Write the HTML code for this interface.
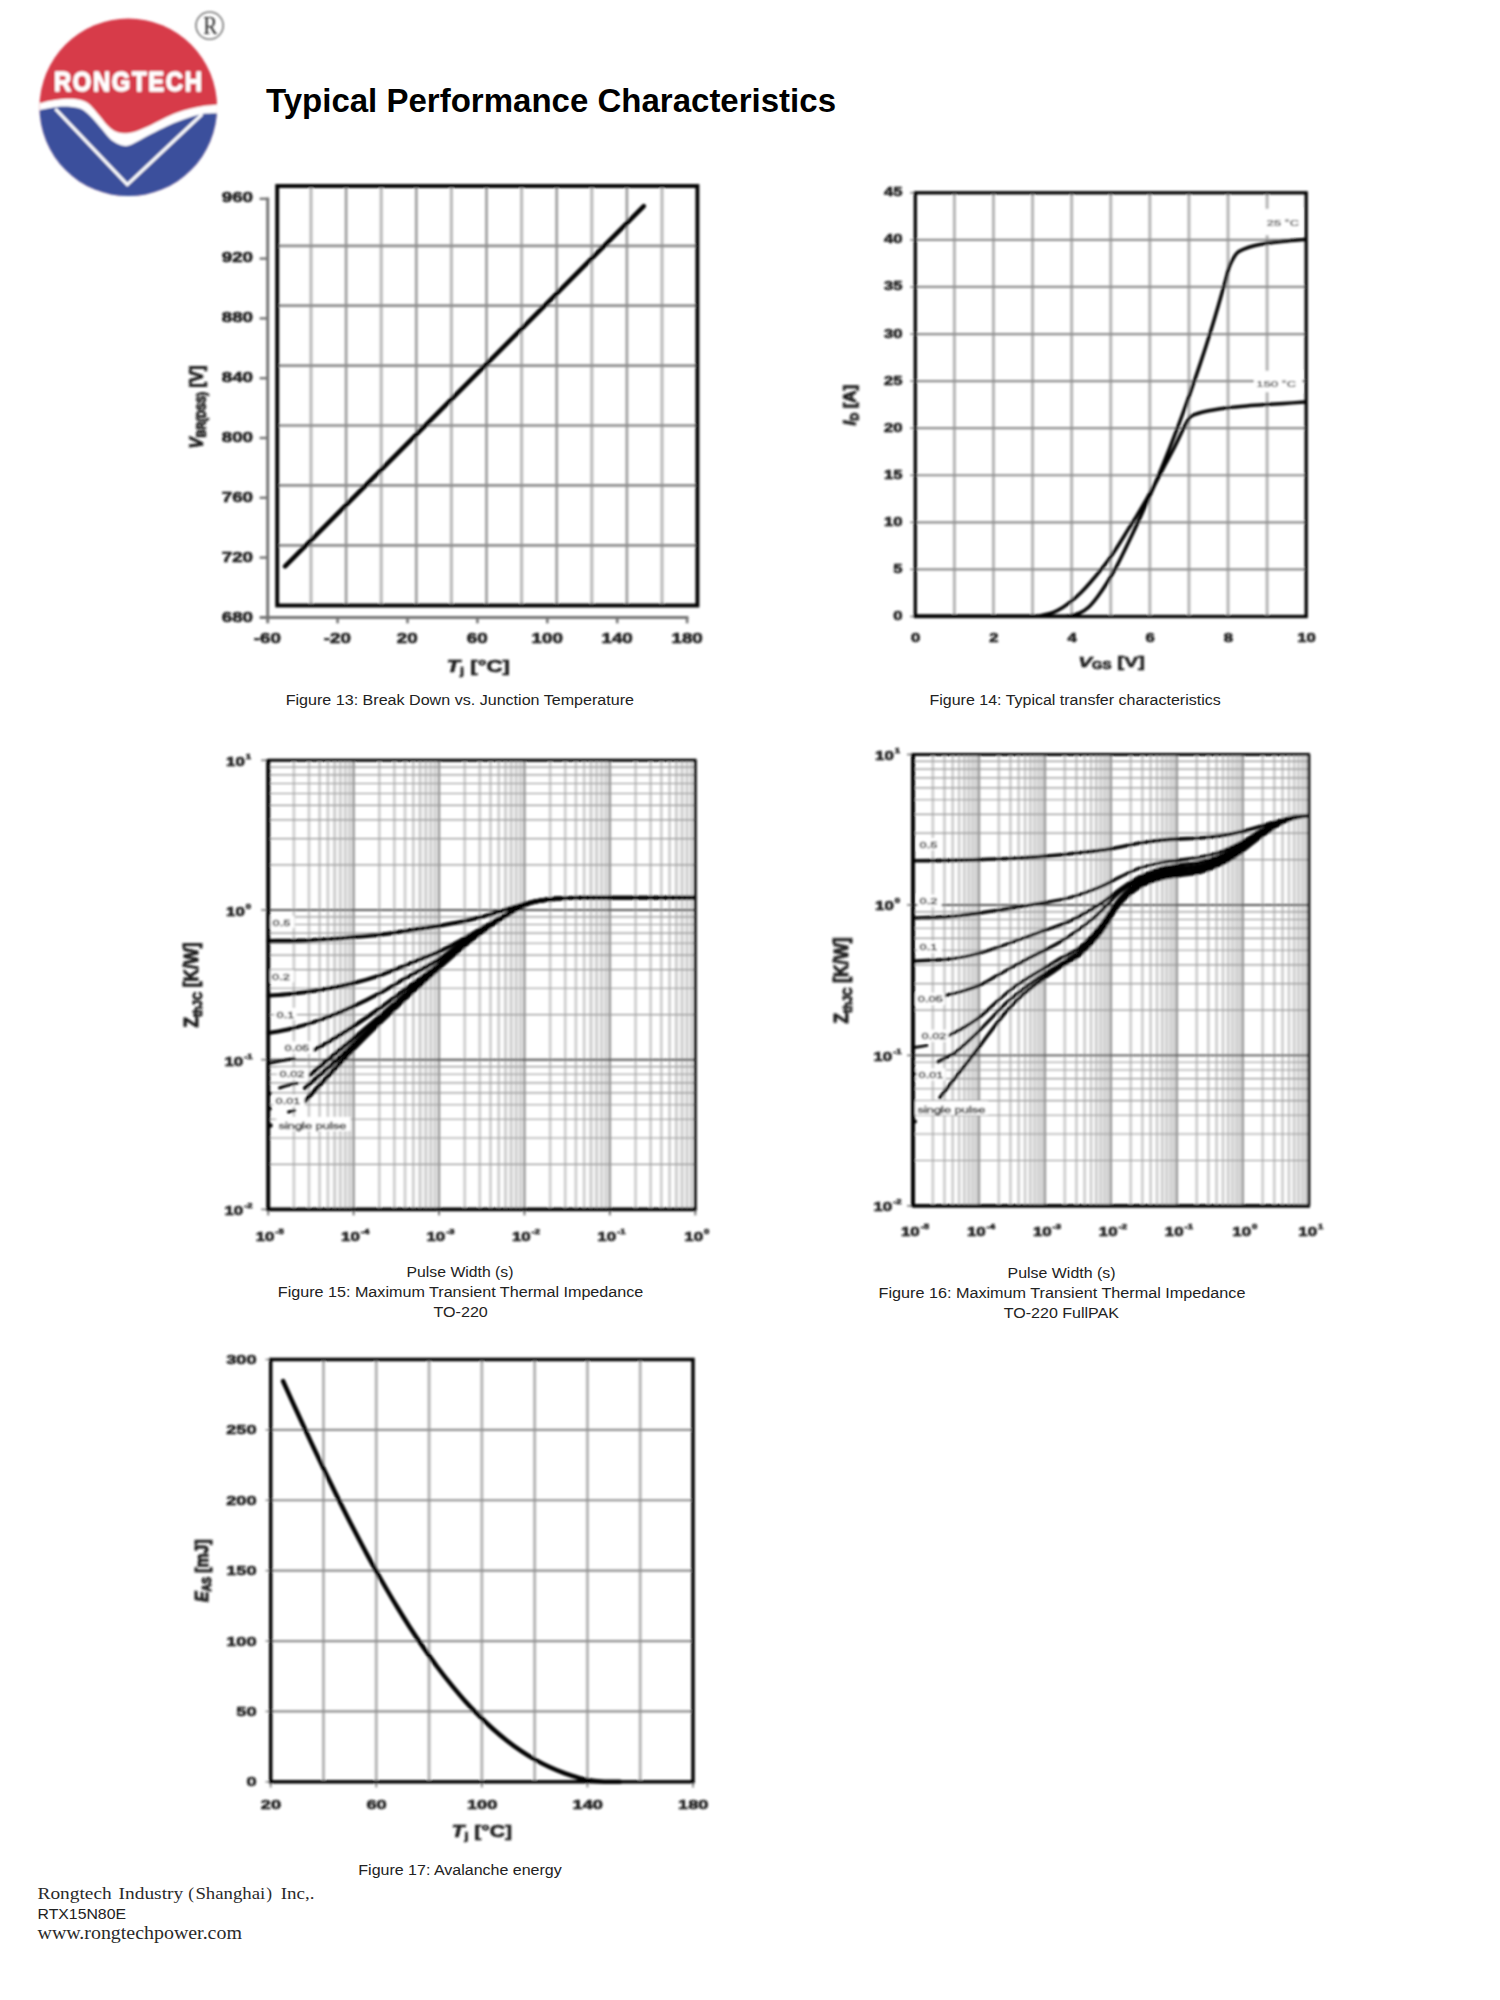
<!DOCTYPE html>
<html lang="en">
<head>
<meta charset="utf-8">
<title>Typical Performance Characteristics</title>
<style>
html,body{margin:0;padding:0;background:#fff;}
body{width:1500px;height:2000px;overflow:hidden;}
svg{display:block;}
</style>
</head>
<body>
<svg width="1500" height="2000" viewBox="0 0 1500 2000">
<defs>
<filter id="soft" x="-5%" y="-5%" width="110%" height="110%"><feGaussianBlur stdDeviation="0.8"/></filter>
<filter id="soft2" x="-5%" y="-5%" width="110%" height="110%"><feGaussianBlur stdDeviation="0.8"/></filter>
<clipPath id="logoclip"><circle cx="128.3" cy="107.3" r="88.8"/></clipPath>
</defs>
<rect width="1500" height="2000" fill="#fff"/>
<g id="logo" filter="url(#soft)">
<g clip-path="url(#logoclip)">
<rect x="35" y="14" width="190" height="190" fill="#d73a48"/>
<path d="M34.0,105.0 C35.0,104.7 37.3,104.0 40.0,103.3 C42.7,102.6 46.1,101.4 50.0,100.7 C53.9,100.0 58.8,99.1 63.3,98.9 C67.8,98.7 72.7,98.7 76.7,99.3 C80.7,99.9 84.4,101.0 87.3,102.7 C90.2,104.4 91.8,106.9 94.0,109.3 C96.2,111.7 98.5,114.6 100.7,117.3 C102.9,120.0 105.1,123.1 107.3,125.3 C109.5,127.5 111.3,129.4 114.0,130.7 C116.7,132.0 120.0,133.1 123.3,133.3 C126.6,133.5 130.0,133.1 134.0,132.0 C138.0,130.9 142.4,128.9 147.3,126.7 C152.2,124.5 158.4,121.0 163.3,118.7 C168.2,116.4 172.2,114.4 176.7,112.7 C181.1,111.0 185.6,109.8 190.0,108.7 C194.4,107.6 198.9,106.7 203.3,106.0 C207.8,105.3 213.6,105.0 216.7,104.7 C219.8,104.4 221.1,104.5 222.0,104.4 L222,200 L34,200 Z" fill="#fff"/>
<path d="M34.0,111.5 C35.0,111.2 37.3,110.6 40.0,110.0 C42.7,109.4 47.2,108.5 50.0,108.0 C52.8,107.5 53.4,107.1 56.7,106.9 C60.0,106.7 66.0,106.4 70.0,106.7 C74.0,107.0 77.8,107.6 80.7,108.7 C83.6,109.8 85.1,111.4 87.3,113.3 C89.5,115.2 91.5,117.3 94.0,120.0 C96.5,122.7 99.3,126.2 102.0,129.3 C104.7,132.4 107.3,136.2 110.0,138.7 C112.7,141.1 115.3,142.8 118.0,144.0 C120.7,145.2 123.3,146.1 126.0,146.0 C128.7,145.9 130.4,145.0 134.0,143.3 C137.6,141.6 142.4,138.6 147.3,136.0 C152.2,133.4 158.4,130.3 163.3,128.0 C168.2,125.7 172.2,123.8 176.7,122.0 C181.1,120.2 185.8,118.6 190.0,117.3 C194.2,116.0 197.6,114.7 202.0,114.0 C206.4,113.3 213.4,113.4 216.7,113.3 C220.0,113.2 221.1,113.2 222.0,113.2 L222,200 L34,200 Z" fill="#3b4f9c"/>
<path d="M55.3,108.8 L127.3,184.6 L202.2,114.2" fill="none" stroke="#fff" stroke-width="3.0" stroke-linejoin="miter"/>
</g>
<text transform="translate(53.90,91.30) scale(0.870,1)" font-family='"Liberation Sans", "DejaVu Sans", sans-serif' font-size="27.4" font-weight="bold" font-style="normal" text-anchor="start" fill="#fff" textLength="170.1" lengthAdjust="spacing" stroke="#fff" stroke-width="1.3" stroke-linejoin="round">RONGTECH</text>
<circle cx="209.6" cy="25.6" r="13.6" fill="none" stroke="#777" stroke-width="1.6"/>
<text transform="translate(210.30,34.40)" font-family='"Liberation Serif", "DejaVu Serif", serif' font-size="26" font-weight="normal" font-style="normal" text-anchor="middle" fill="#2a2a2a" textLength="14.2" lengthAdjust="spacingAndGlyphs">R</text>
</g>
<text transform="translate(266.00,112.00)" font-family='"Liberation Sans", "DejaVu Sans", sans-serif' font-size="33" font-weight="bold" font-style="normal" text-anchor="start" fill="#000" textLength="570.0" lengthAdjust="spacingAndGlyphs">Typical Performance Characteristics</text>
<g id="fig13">
<g filter="url(#soft)">
<line x1="311.00" y1="186.00" x2="311.00" y2="605.50" stroke="#bcbcbc" stroke-width="3.2"/>
<line x1="346.10" y1="186.00" x2="346.10" y2="605.50" stroke="#a2a2a2" stroke-width="2.8"/>
<line x1="381.20" y1="186.00" x2="381.20" y2="605.50" stroke="#bcbcbc" stroke-width="3.2"/>
<line x1="416.30" y1="186.00" x2="416.30" y2="605.50" stroke="#a2a2a2" stroke-width="2.8"/>
<line x1="451.40" y1="186.00" x2="451.40" y2="605.50" stroke="#bcbcbc" stroke-width="3.2"/>
<line x1="486.50" y1="186.00" x2="486.50" y2="605.50" stroke="#a2a2a2" stroke-width="2.8"/>
<line x1="521.60" y1="186.00" x2="521.60" y2="605.50" stroke="#bcbcbc" stroke-width="3.2"/>
<line x1="556.70" y1="186.00" x2="556.70" y2="605.50" stroke="#a2a2a2" stroke-width="2.8"/>
<line x1="591.80" y1="186.00" x2="591.80" y2="605.50" stroke="#bcbcbc" stroke-width="3.2"/>
<line x1="626.90" y1="186.00" x2="626.90" y2="605.50" stroke="#a2a2a2" stroke-width="2.8"/>
<line x1="662.00" y1="186.00" x2="662.00" y2="605.50" stroke="#bcbcbc" stroke-width="3.2"/>
<line x1="277.20" y1="245.80" x2="697.40" y2="245.80" stroke="#8e8e8e" stroke-width="2.7"/>
<line x1="277.20" y1="305.70" x2="697.40" y2="305.70" stroke="#8e8e8e" stroke-width="2.7"/>
<line x1="277.20" y1="365.60" x2="697.40" y2="365.60" stroke="#8e8e8e" stroke-width="2.7"/>
<line x1="277.20" y1="425.50" x2="697.40" y2="425.50" stroke="#8e8e8e" stroke-width="2.7"/>
<line x1="277.20" y1="485.40" x2="697.40" y2="485.40" stroke="#8e8e8e" stroke-width="2.7"/>
<line x1="277.20" y1="545.30" x2="697.40" y2="545.30" stroke="#8e8e8e" stroke-width="2.7"/>
<line x1="267.70" y1="197.60" x2="267.70" y2="623.30" stroke="#747474" stroke-width="3.0"/>
<line x1="259.60" y1="617.40" x2="688.40" y2="617.40" stroke="#747474" stroke-width="3.0"/>
<line x1="259.60" y1="198.80" x2="267.70" y2="198.80" stroke="#747474" stroke-width="2.4"/>
<line x1="259.60" y1="258.60" x2="267.70" y2="258.60" stroke="#747474" stroke-width="2.4"/>
<line x1="259.60" y1="318.40" x2="267.70" y2="318.40" stroke="#747474" stroke-width="2.4"/>
<line x1="259.60" y1="378.20" x2="267.70" y2="378.20" stroke="#747474" stroke-width="2.4"/>
<line x1="259.60" y1="438.00" x2="267.70" y2="438.00" stroke="#747474" stroke-width="2.4"/>
<line x1="259.60" y1="497.80" x2="267.70" y2="497.80" stroke="#747474" stroke-width="2.4"/>
<line x1="259.60" y1="557.60" x2="267.70" y2="557.60" stroke="#747474" stroke-width="2.4"/>
<line x1="337.60" y1="617.40" x2="337.60" y2="623.30" stroke="#747474" stroke-width="2.6"/>
<line x1="407.50" y1="617.40" x2="407.50" y2="623.30" stroke="#747474" stroke-width="2.6"/>
<line x1="477.40" y1="617.40" x2="477.40" y2="623.30" stroke="#747474" stroke-width="2.6"/>
<line x1="547.30" y1="617.40" x2="547.30" y2="623.30" stroke="#747474" stroke-width="2.6"/>
<line x1="617.20" y1="617.40" x2="617.20" y2="623.30" stroke="#747474" stroke-width="2.6"/>
<line x1="687.10" y1="617.40" x2="687.10" y2="623.30" stroke="#747474" stroke-width="2.6"/>
<rect x="277.2" y="186.0" width="420.2" height="419.5" fill="none" stroke="#000" stroke-width="3.9"/>
<line x1="285.00" y1="566.40" x2="643.80" y2="206.20" stroke="#000" stroke-width="4.6" stroke-linecap="round"/>
<text transform="translate(253.00,201.80) scale(1.340,1)" font-family='"Liberation Sans", "DejaVu Sans", sans-serif' font-size="14.0" font-weight="bold" font-style="normal" text-anchor="end" fill="#222" stroke="#151515" stroke-width="0.55">960</text>
<text transform="translate(253.00,261.83) scale(1.340,1)" font-family='"Liberation Sans", "DejaVu Sans", sans-serif' font-size="14.0" font-weight="bold" font-style="normal" text-anchor="end" fill="#222" stroke="#151515" stroke-width="0.55">920</text>
<text transform="translate(253.00,321.86) scale(1.340,1)" font-family='"Liberation Sans", "DejaVu Sans", sans-serif' font-size="14.0" font-weight="bold" font-style="normal" text-anchor="end" fill="#222" stroke="#151515" stroke-width="0.55">880</text>
<text transform="translate(253.00,381.89) scale(1.340,1)" font-family='"Liberation Sans", "DejaVu Sans", sans-serif' font-size="14.0" font-weight="bold" font-style="normal" text-anchor="end" fill="#222" stroke="#151515" stroke-width="0.55">840</text>
<text transform="translate(253.00,441.92) scale(1.340,1)" font-family='"Liberation Sans", "DejaVu Sans", sans-serif' font-size="14.0" font-weight="bold" font-style="normal" text-anchor="end" fill="#222" stroke="#151515" stroke-width="0.55">800</text>
<text transform="translate(253.00,501.95) scale(1.340,1)" font-family='"Liberation Sans", "DejaVu Sans", sans-serif' font-size="14.0" font-weight="bold" font-style="normal" text-anchor="end" fill="#222" stroke="#151515" stroke-width="0.55">760</text>
<text transform="translate(253.00,561.98) scale(1.340,1)" font-family='"Liberation Sans", "DejaVu Sans", sans-serif' font-size="14.0" font-weight="bold" font-style="normal" text-anchor="end" fill="#222" stroke="#151515" stroke-width="0.55">720</text>
<text transform="translate(253.00,622.01) scale(1.340,1)" font-family='"Liberation Sans", "DejaVu Sans", sans-serif' font-size="14.0" font-weight="bold" font-style="normal" text-anchor="end" fill="#222" stroke="#151515" stroke-width="0.55">680</text>
<text transform="translate(267.40,643.40) scale(1.340,1)" font-family='"Liberation Sans", "DejaVu Sans", sans-serif' font-size="14.0" font-weight="bold" font-style="normal" text-anchor="middle" fill="#222" stroke="#151515" stroke-width="0.55">-60</text>
<text transform="translate(337.35,643.40) scale(1.340,1)" font-family='"Liberation Sans", "DejaVu Sans", sans-serif' font-size="14.0" font-weight="bold" font-style="normal" text-anchor="middle" fill="#222" stroke="#151515" stroke-width="0.55">-20</text>
<text transform="translate(407.30,643.40) scale(1.340,1)" font-family='"Liberation Sans", "DejaVu Sans", sans-serif' font-size="14.0" font-weight="bold" font-style="normal" text-anchor="middle" fill="#222" stroke="#151515" stroke-width="0.55">20</text>
<text transform="translate(477.25,643.40) scale(1.340,1)" font-family='"Liberation Sans", "DejaVu Sans", sans-serif' font-size="14.0" font-weight="bold" font-style="normal" text-anchor="middle" fill="#222" stroke="#151515" stroke-width="0.55">60</text>
<text transform="translate(547.20,643.40) scale(1.340,1)" font-family='"Liberation Sans", "DejaVu Sans", sans-serif' font-size="14.0" font-weight="bold" font-style="normal" text-anchor="middle" fill="#222" stroke="#151515" stroke-width="0.55">100</text>
<text transform="translate(617.15,643.40) scale(1.340,1)" font-family='"Liberation Sans", "DejaVu Sans", sans-serif' font-size="14.0" font-weight="bold" font-style="normal" text-anchor="middle" fill="#222" stroke="#151515" stroke-width="0.55">140</text>
<text transform="translate(687.10,643.40) scale(1.340,1)" font-family='"Liberation Sans", "DejaVu Sans", sans-serif' font-size="14.0" font-weight="bold" font-style="normal" text-anchor="middle" fill="#222" stroke="#151515" stroke-width="0.55">180</text>
<text transform="translate(478.20,672.40) scale(1.340,1)" font-family='"Liberation Sans", "DejaVu Sans", sans-serif' font-size="16.6" font-weight="bold" font-style="normal" text-anchor="middle" fill="#222" stroke="#151515" stroke-width="0.55"><tspan font-style="italic">T</tspan><tspan font-size="0.66em" dy="0.24em" font-style="normal">j</tspan><tspan dy="-0.158em" font-style="normal"> [°C]</tspan></text>
<text transform="translate(202.70,407.00) scale(1.340,1) rotate(-90)" font-family='"Liberation Sans", "DejaVu Sans", sans-serif' font-size="13.8" font-weight="bold" font-style="normal" text-anchor="middle" fill="#222" textLength="83.0" lengthAdjust="spacingAndGlyphs" stroke="#151515" stroke-width="0.7"><tspan font-style="italic">V</tspan><tspan font-size="0.66em" dy="0.24em" font-style="normal">BR(DSS)</tspan><tspan dy="-0.158em" font-style="normal"> [V]</tspan></text>
</g>
<text transform="translate(285.70,704.60)" font-family='"Liberation Sans", "DejaVu Sans", sans-serif' font-size="15.5" font-weight="normal" font-style="normal" text-anchor="start" fill="#222" textLength="348.3" lengthAdjust="spacingAndGlyphs">Figure 13: Break Down vs. Junction Temperature</text>
</g>
<g id="fig14">
<g filter="url(#soft)">
<line x1="954.39" y1="192.80" x2="954.39" y2="616.50" stroke="#b6b6b6" stroke-width="3.0"/>
<line x1="993.48" y1="192.80" x2="993.48" y2="616.50" stroke="#b6b6b6" stroke-width="3.0"/>
<line x1="1032.57" y1="192.80" x2="1032.57" y2="616.50" stroke="#b6b6b6" stroke-width="3.0"/>
<line x1="1071.66" y1="192.80" x2="1071.66" y2="616.50" stroke="#b6b6b6" stroke-width="3.0"/>
<line x1="1110.75" y1="192.80" x2="1110.75" y2="616.50" stroke="#b6b6b6" stroke-width="3.0"/>
<line x1="1149.84" y1="192.80" x2="1149.84" y2="616.50" stroke="#b6b6b6" stroke-width="3.0"/>
<line x1="1188.93" y1="192.80" x2="1188.93" y2="616.50" stroke="#b6b6b6" stroke-width="3.0"/>
<line x1="1228.02" y1="192.80" x2="1228.02" y2="616.50" stroke="#b6b6b6" stroke-width="3.0"/>
<line x1="1267.11" y1="192.80" x2="1267.11" y2="616.50" stroke="#b6b6b6" stroke-width="3.0"/>
<line x1="915.30" y1="239.88" x2="1306.20" y2="239.88" stroke="#8e8e8e" stroke-width="2.2"/>
<line x1="915.30" y1="286.96" x2="1306.20" y2="286.96" stroke="#8e8e8e" stroke-width="2.2"/>
<line x1="915.30" y1="334.03" x2="1306.20" y2="334.03" stroke="#8e8e8e" stroke-width="2.2"/>
<line x1="915.30" y1="381.11" x2="1306.20" y2="381.11" stroke="#8e8e8e" stroke-width="2.2"/>
<line x1="915.30" y1="428.19" x2="1306.20" y2="428.19" stroke="#8e8e8e" stroke-width="2.2"/>
<line x1="915.30" y1="475.27" x2="1306.20" y2="475.27" stroke="#8e8e8e" stroke-width="2.2"/>
<line x1="915.30" y1="522.34" x2="1306.20" y2="522.34" stroke="#8e8e8e" stroke-width="2.2"/>
<line x1="915.30" y1="569.42" x2="1306.20" y2="569.42" stroke="#8e8e8e" stroke-width="2.2"/>
<line x1="910.00" y1="192.80" x2="915.30" y2="192.80" stroke="#8e8e8e" stroke-width="1.6"/>
<line x1="910.00" y1="239.88" x2="915.30" y2="239.88" stroke="#8e8e8e" stroke-width="1.6"/>
<line x1="910.00" y1="286.96" x2="915.30" y2="286.96" stroke="#8e8e8e" stroke-width="1.6"/>
<line x1="910.00" y1="334.03" x2="915.30" y2="334.03" stroke="#8e8e8e" stroke-width="1.6"/>
<line x1="910.00" y1="381.11" x2="915.30" y2="381.11" stroke="#8e8e8e" stroke-width="1.6"/>
<line x1="910.00" y1="428.19" x2="915.30" y2="428.19" stroke="#8e8e8e" stroke-width="1.6"/>
<line x1="910.00" y1="475.27" x2="915.30" y2="475.27" stroke="#8e8e8e" stroke-width="1.6"/>
<line x1="910.00" y1="522.34" x2="915.30" y2="522.34" stroke="#8e8e8e" stroke-width="1.6"/>
<line x1="910.00" y1="569.42" x2="915.30" y2="569.42" stroke="#8e8e8e" stroke-width="1.6"/>
<line x1="910.00" y1="616.50" x2="915.30" y2="616.50" stroke="#8e8e8e" stroke-width="1.6"/>
<rect x="1262" y="209" width="40" height="26" fill="#fff"/>
<rect x="1254" y="371" width="48" height="21" fill="#fff"/>
<rect x="915.3" y="192.8" width="390.9000000000001" height="423.7" fill="none" stroke="#000" stroke-width="3.3"/>
<path d="M915.3,616.2 C936.1,616.2 1015.5,616.2 1040.0,616.2 C1064.5,616.2 1057.0,616.3 1062.0,616.2 C1067.0,616.1 1067.2,616.3 1070.1,615.8 C1073.0,615.3 1076.4,614.7 1079.5,613.2 C1082.6,611.7 1085.7,609.9 1088.8,607.0 C1091.9,604.1 1095.0,600.2 1098.1,596.0 C1101.2,591.8 1104.4,587.0 1107.5,582.0 C1110.6,577.0 1113.0,573.1 1116.7,566.1 C1120.4,559.1 1125.3,548.9 1129.5,540.2 C1133.7,531.6 1137.7,522.9 1141.6,514.2 C1145.5,505.6 1149.4,496.9 1153.1,488.3 C1156.8,479.7 1160.4,471.0 1163.9,462.4 C1167.4,453.8 1170.9,445.0 1174.2,436.4 C1177.5,427.8 1180.8,419.1 1183.9,410.5 C1187.1,401.9 1190.1,393.1 1193.1,384.5 C1196.1,375.9 1199.1,367.2 1201.9,358.6 C1204.8,350.0 1207.5,341.4 1210.2,332.7 C1212.9,324.0 1215.5,315.3 1218.0,306.7 C1220.5,298.1 1223.6,287.3 1225.4,280.8 C1227.2,274.3 1227.7,271.3 1228.9,267.7 C1230.1,264.1 1231.3,261.8 1232.7,259.3 C1234.1,256.8 1235.4,254.5 1237.3,252.8 C1239.2,251.1 1241.1,250.3 1243.9,249.1 C1246.7,247.9 1250.5,246.6 1254.1,245.7 C1257.7,244.8 1260.3,244.2 1265.3,243.5 C1270.3,242.8 1277.4,241.9 1284.0,241.2 C1290.6,240.5 1301.5,239.7 1305.0,239.4" fill="none" stroke="#000" stroke-width="3.5" stroke-linecap="round" stroke-linejoin="round"/>
<path d="M915.3,616.2 C932.8,616.2 1000.2,616.2 1020.0,616.2 C1039.8,616.2 1030.6,616.3 1034.0,616.2 C1037.4,616.1 1037.1,616.2 1040.3,615.6 C1043.5,615.0 1049.6,613.8 1053.3,612.4 C1057.0,611.0 1059.6,609.3 1062.7,607.4 C1065.8,605.5 1068.9,603.2 1072.0,600.7 C1075.1,598.2 1078.2,595.4 1081.3,592.3 C1084.4,589.2 1087.6,585.6 1090.7,582.0 C1093.8,578.4 1096.9,574.7 1100.0,570.8 C1103.1,566.9 1106.2,563.1 1109.3,558.7 C1112.4,554.4 1115.6,549.5 1118.7,544.7 C1121.8,539.9 1124.9,534.7 1128.0,529.7 C1131.1,524.7 1134.2,519.9 1137.3,514.8 C1140.4,509.7 1143.6,504.3 1146.7,498.9 C1149.8,493.4 1152.9,487.9 1156.0,482.1 C1159.1,476.4 1162.2,470.3 1165.3,464.4 C1168.4,458.5 1171.8,452.5 1174.7,446.7 C1177.7,440.9 1180.9,433.8 1183.0,429.5 C1185.1,425.2 1186.2,423.1 1187.5,421.0 C1188.8,418.9 1189.3,417.9 1190.5,416.8 C1191.7,415.7 1192.5,415.4 1194.4,414.6 C1196.3,413.8 1198.8,413.0 1201.9,412.2 C1205.0,411.4 1208.8,410.8 1213.1,410.0 C1217.4,409.2 1222.4,408.4 1228.0,407.7 C1233.6,407.0 1240.5,406.4 1246.7,405.9 C1252.9,405.4 1259.1,405.0 1265.3,404.6 C1271.5,404.2 1277.4,403.8 1284.0,403.4 C1290.6,403.0 1301.5,402.3 1305.0,402.1" fill="none" stroke="#000" stroke-width="3.5" stroke-linecap="round" stroke-linejoin="round"/>
<text transform="translate(902.60,196.30) scale(1.340,1)" font-family='"Liberation Sans", "DejaVu Sans", sans-serif' font-size="12.4" font-weight="bold" font-style="normal" text-anchor="end" fill="#222" stroke="#151515" stroke-width="0.55">45</text>
<text transform="translate(902.60,243.38) scale(1.340,1)" font-family='"Liberation Sans", "DejaVu Sans", sans-serif' font-size="12.4" font-weight="bold" font-style="normal" text-anchor="end" fill="#222" stroke="#151515" stroke-width="0.55">40</text>
<text transform="translate(902.60,290.46) scale(1.340,1)" font-family='"Liberation Sans", "DejaVu Sans", sans-serif' font-size="12.4" font-weight="bold" font-style="normal" text-anchor="end" fill="#222" stroke="#151515" stroke-width="0.55">35</text>
<text transform="translate(902.60,337.53) scale(1.340,1)" font-family='"Liberation Sans", "DejaVu Sans", sans-serif' font-size="12.4" font-weight="bold" font-style="normal" text-anchor="end" fill="#222" stroke="#151515" stroke-width="0.55">30</text>
<text transform="translate(902.60,384.61) scale(1.340,1)" font-family='"Liberation Sans", "DejaVu Sans", sans-serif' font-size="12.4" font-weight="bold" font-style="normal" text-anchor="end" fill="#222" stroke="#151515" stroke-width="0.55">25</text>
<text transform="translate(902.60,431.69) scale(1.340,1)" font-family='"Liberation Sans", "DejaVu Sans", sans-serif' font-size="12.4" font-weight="bold" font-style="normal" text-anchor="end" fill="#222" stroke="#151515" stroke-width="0.55">20</text>
<text transform="translate(902.60,478.77) scale(1.340,1)" font-family='"Liberation Sans", "DejaVu Sans", sans-serif' font-size="12.4" font-weight="bold" font-style="normal" text-anchor="end" fill="#222" stroke="#151515" stroke-width="0.55">15</text>
<text transform="translate(902.60,525.84) scale(1.340,1)" font-family='"Liberation Sans", "DejaVu Sans", sans-serif' font-size="12.4" font-weight="bold" font-style="normal" text-anchor="end" fill="#222" stroke="#151515" stroke-width="0.55">10</text>
<text transform="translate(902.60,572.92) scale(1.340,1)" font-family='"Liberation Sans", "DejaVu Sans", sans-serif' font-size="12.4" font-weight="bold" font-style="normal" text-anchor="end" fill="#222" stroke="#151515" stroke-width="0.55">5</text>
<text transform="translate(902.60,620.00) scale(1.340,1)" font-family='"Liberation Sans", "DejaVu Sans", sans-serif' font-size="12.4" font-weight="bold" font-style="normal" text-anchor="end" fill="#222" stroke="#151515" stroke-width="0.55">0</text>
<text transform="translate(915.70,642.00) scale(1.340,1)" font-family='"Liberation Sans", "DejaVu Sans", sans-serif' font-size="12.4" font-weight="bold" font-style="normal" text-anchor="middle" fill="#222" stroke="#151515" stroke-width="0.55">0</text>
<text transform="translate(993.88,642.00) scale(1.340,1)" font-family='"Liberation Sans", "DejaVu Sans", sans-serif' font-size="12.4" font-weight="bold" font-style="normal" text-anchor="middle" fill="#222" stroke="#151515" stroke-width="0.55">2</text>
<text transform="translate(1072.06,642.00) scale(1.340,1)" font-family='"Liberation Sans", "DejaVu Sans", sans-serif' font-size="12.4" font-weight="bold" font-style="normal" text-anchor="middle" fill="#222" stroke="#151515" stroke-width="0.55">4</text>
<text transform="translate(1150.24,642.00) scale(1.340,1)" font-family='"Liberation Sans", "DejaVu Sans", sans-serif' font-size="12.4" font-weight="bold" font-style="normal" text-anchor="middle" fill="#222" stroke="#151515" stroke-width="0.55">6</text>
<text transform="translate(1228.42,642.00) scale(1.340,1)" font-family='"Liberation Sans", "DejaVu Sans", sans-serif' font-size="12.4" font-weight="bold" font-style="normal" text-anchor="middle" fill="#222" stroke="#151515" stroke-width="0.55">8</text>
<text transform="translate(1306.60,642.00) scale(1.340,1)" font-family='"Liberation Sans", "DejaVu Sans", sans-serif' font-size="12.4" font-weight="bold" font-style="normal" text-anchor="middle" fill="#222" stroke="#151515" stroke-width="0.55">10</text>
<text transform="translate(1111.50,667.00) scale(1.340,1)" font-family='"Liberation Sans", "DejaVu Sans", sans-serif' font-size="15.4" font-weight="bold" font-style="normal" text-anchor="middle" fill="#222" stroke="#151515" stroke-width="0.55"><tspan font-style="italic">V</tspan><tspan font-size="0.66em" dy="0.24em" font-style="normal">GS</tspan><tspan dy="-0.158em" font-style="normal"> [V]</tspan></text>
<text transform="translate(855.80,405.20) scale(1.340,1) rotate(-90)" font-family='"Liberation Sans", "DejaVu Sans", sans-serif' font-size="12.6" font-weight="bold" font-style="normal" text-anchor="middle" fill="#222" textLength="40.5" lengthAdjust="spacingAndGlyphs" stroke="#151515" stroke-width="0.7"><tspan font-style="italic">I</tspan><tspan font-size="0.66em" dy="0.24em" font-style="normal">D</tspan><tspan dy="-0.158em" font-style="normal"> [A]</tspan></text>
<text transform="translate(1282.90,225.60) scale(1.340,1)" font-family='"Liberation Sans", "DejaVu Sans", sans-serif' font-size="9.6" font-weight="normal" font-style="normal" text-anchor="middle" fill="#222" stroke="#222" stroke-width="0.2">25 °C</text>
<text transform="translate(1276.30,386.80) scale(1.340,1)" font-family='"Liberation Sans", "DejaVu Sans", sans-serif' font-size="9.6" font-weight="normal" font-style="normal" text-anchor="middle" fill="#222" stroke="#222" stroke-width="0.2">150 °C</text>
</g>
<text transform="translate(929.50,704.80)" font-family='"Liberation Sans", "DejaVu Sans", sans-serif' font-size="15.5" font-weight="normal" font-style="normal" text-anchor="start" fill="#222" textLength="291.2" lengthAdjust="spacingAndGlyphs">Figure 14: Typical transfer characteristics</text>
</g>
<g id="fig15">
<g filter="url(#soft2)">
<rect x="332.11" y="760.3" width="21.51" height="449.10" fill="#000" fill-opacity="0.06"/>
<line x1="293.91" y1="760.30" x2="293.91" y2="1209.40" stroke="#cecece" stroke-width="2.7"/>
<line x1="308.96" y1="760.30" x2="308.96" y2="1209.40" stroke="#cecece" stroke-width="2.7"/>
<line x1="319.63" y1="760.30" x2="319.63" y2="1209.40" stroke="#cecece" stroke-width="2.7"/>
<line x1="327.91" y1="760.30" x2="327.91" y2="1209.40" stroke="#cecece" stroke-width="2.7"/>
<line x1="334.67" y1="760.30" x2="334.67" y2="1209.40" stroke="#cecece" stroke-width="2.7"/>
<line x1="340.39" y1="760.30" x2="340.39" y2="1209.40" stroke="#cecece" stroke-width="2.7"/>
<line x1="345.34" y1="760.30" x2="345.34" y2="1209.40" stroke="#cecece" stroke-width="2.7"/>
<line x1="349.71" y1="760.30" x2="349.71" y2="1209.40" stroke="#cecece" stroke-width="2.7"/>
<rect x="417.53" y="760.3" width="21.51" height="449.10" fill="#000" fill-opacity="0.06"/>
<line x1="379.33" y1="760.30" x2="379.33" y2="1209.40" stroke="#cecece" stroke-width="2.7"/>
<line x1="394.38" y1="760.30" x2="394.38" y2="1209.40" stroke="#cecece" stroke-width="2.7"/>
<line x1="405.05" y1="760.30" x2="405.05" y2="1209.40" stroke="#cecece" stroke-width="2.7"/>
<line x1="413.33" y1="760.30" x2="413.33" y2="1209.40" stroke="#cecece" stroke-width="2.7"/>
<line x1="420.09" y1="760.30" x2="420.09" y2="1209.40" stroke="#cecece" stroke-width="2.7"/>
<line x1="425.81" y1="760.30" x2="425.81" y2="1209.40" stroke="#cecece" stroke-width="2.7"/>
<line x1="430.76" y1="760.30" x2="430.76" y2="1209.40" stroke="#cecece" stroke-width="2.7"/>
<line x1="435.13" y1="760.30" x2="435.13" y2="1209.40" stroke="#cecece" stroke-width="2.7"/>
<line x1="353.62" y1="760.30" x2="353.62" y2="1209.40" stroke="#999" stroke-width="2.4"/>
<rect x="502.95" y="760.3" width="21.51" height="449.10" fill="#000" fill-opacity="0.06"/>
<line x1="464.75" y1="760.30" x2="464.75" y2="1209.40" stroke="#cecece" stroke-width="2.7"/>
<line x1="479.80" y1="760.30" x2="479.80" y2="1209.40" stroke="#cecece" stroke-width="2.7"/>
<line x1="490.47" y1="760.30" x2="490.47" y2="1209.40" stroke="#cecece" stroke-width="2.7"/>
<line x1="498.75" y1="760.30" x2="498.75" y2="1209.40" stroke="#cecece" stroke-width="2.7"/>
<line x1="505.51" y1="760.30" x2="505.51" y2="1209.40" stroke="#cecece" stroke-width="2.7"/>
<line x1="511.23" y1="760.30" x2="511.23" y2="1209.40" stroke="#cecece" stroke-width="2.7"/>
<line x1="516.18" y1="760.30" x2="516.18" y2="1209.40" stroke="#cecece" stroke-width="2.7"/>
<line x1="520.55" y1="760.30" x2="520.55" y2="1209.40" stroke="#cecece" stroke-width="2.7"/>
<line x1="439.04" y1="760.30" x2="439.04" y2="1209.40" stroke="#999" stroke-width="2.4"/>
<rect x="588.37" y="760.3" width="21.51" height="449.10" fill="#000" fill-opacity="0.06"/>
<line x1="550.17" y1="760.30" x2="550.17" y2="1209.40" stroke="#cecece" stroke-width="2.7"/>
<line x1="565.22" y1="760.30" x2="565.22" y2="1209.40" stroke="#cecece" stroke-width="2.7"/>
<line x1="575.89" y1="760.30" x2="575.89" y2="1209.40" stroke="#cecece" stroke-width="2.7"/>
<line x1="584.17" y1="760.30" x2="584.17" y2="1209.40" stroke="#cecece" stroke-width="2.7"/>
<line x1="590.93" y1="760.30" x2="590.93" y2="1209.40" stroke="#cecece" stroke-width="2.7"/>
<line x1="596.65" y1="760.30" x2="596.65" y2="1209.40" stroke="#cecece" stroke-width="2.7"/>
<line x1="601.60" y1="760.30" x2="601.60" y2="1209.40" stroke="#cecece" stroke-width="2.7"/>
<line x1="605.97" y1="760.30" x2="605.97" y2="1209.40" stroke="#cecece" stroke-width="2.7"/>
<line x1="524.46" y1="760.30" x2="524.46" y2="1209.40" stroke="#999" stroke-width="2.4"/>
<rect x="673.79" y="760.3" width="21.51" height="449.10" fill="#000" fill-opacity="0.06"/>
<line x1="635.59" y1="760.30" x2="635.59" y2="1209.40" stroke="#cecece" stroke-width="2.7"/>
<line x1="650.64" y1="760.30" x2="650.64" y2="1209.40" stroke="#cecece" stroke-width="2.7"/>
<line x1="661.31" y1="760.30" x2="661.31" y2="1209.40" stroke="#cecece" stroke-width="2.7"/>
<line x1="669.59" y1="760.30" x2="669.59" y2="1209.40" stroke="#cecece" stroke-width="2.7"/>
<line x1="676.35" y1="760.30" x2="676.35" y2="1209.40" stroke="#cecece" stroke-width="2.7"/>
<line x1="682.07" y1="760.30" x2="682.07" y2="1209.40" stroke="#cecece" stroke-width="2.7"/>
<line x1="687.02" y1="760.30" x2="687.02" y2="1209.40" stroke="#cecece" stroke-width="2.7"/>
<line x1="691.39" y1="760.30" x2="691.39" y2="1209.40" stroke="#cecece" stroke-width="2.7"/>
<line x1="609.88" y1="760.30" x2="609.88" y2="1209.40" stroke="#999" stroke-width="2.4"/>
<line x1="268.20" y1="1164.34" x2="695.30" y2="1164.34" stroke="#939393" stroke-width="1.15"/>
<line x1="268.20" y1="1137.97" x2="695.30" y2="1137.97" stroke="#939393" stroke-width="1.15"/>
<line x1="268.20" y1="1119.27" x2="695.30" y2="1119.27" stroke="#939393" stroke-width="1.15"/>
<line x1="268.20" y1="1104.76" x2="695.30" y2="1104.76" stroke="#939393" stroke-width="1.15"/>
<line x1="268.20" y1="1092.91" x2="695.30" y2="1092.91" stroke="#939393" stroke-width="1.15"/>
<line x1="268.20" y1="1082.89" x2="695.30" y2="1082.89" stroke="#939393" stroke-width="1.15"/>
<line x1="268.20" y1="1074.21" x2="695.30" y2="1074.21" stroke="#939393" stroke-width="1.15"/>
<line x1="268.20" y1="1066.55" x2="695.30" y2="1066.55" stroke="#939393" stroke-width="1.15"/>
<line x1="268.20" y1="1014.64" x2="695.30" y2="1014.64" stroke="#939393" stroke-width="1.15"/>
<line x1="268.20" y1="988.27" x2="695.30" y2="988.27" stroke="#939393" stroke-width="1.15"/>
<line x1="268.20" y1="969.57" x2="695.30" y2="969.57" stroke="#939393" stroke-width="1.15"/>
<line x1="268.20" y1="955.06" x2="695.30" y2="955.06" stroke="#939393" stroke-width="1.15"/>
<line x1="268.20" y1="943.21" x2="695.30" y2="943.21" stroke="#939393" stroke-width="1.15"/>
<line x1="268.20" y1="933.19" x2="695.30" y2="933.19" stroke="#939393" stroke-width="1.15"/>
<line x1="268.20" y1="924.51" x2="695.30" y2="924.51" stroke="#939393" stroke-width="1.15"/>
<line x1="268.20" y1="916.85" x2="695.30" y2="916.85" stroke="#939393" stroke-width="1.15"/>
<line x1="268.20" y1="1059.70" x2="695.30" y2="1059.70" stroke="#555" stroke-width="1.9"/>
<line x1="268.20" y1="864.94" x2="695.30" y2="864.94" stroke="#939393" stroke-width="1.15"/>
<line x1="268.20" y1="838.57" x2="695.30" y2="838.57" stroke="#939393" stroke-width="1.15"/>
<line x1="268.20" y1="819.87" x2="695.30" y2="819.87" stroke="#939393" stroke-width="1.15"/>
<line x1="268.20" y1="805.36" x2="695.30" y2="805.36" stroke="#939393" stroke-width="1.15"/>
<line x1="268.20" y1="793.51" x2="695.30" y2="793.51" stroke="#939393" stroke-width="1.15"/>
<line x1="268.20" y1="783.49" x2="695.30" y2="783.49" stroke="#939393" stroke-width="1.15"/>
<line x1="268.20" y1="774.81" x2="695.30" y2="774.81" stroke="#939393" stroke-width="1.15"/>
<line x1="268.20" y1="767.15" x2="695.30" y2="767.15" stroke="#939393" stroke-width="1.15"/>
<line x1="268.20" y1="910.00" x2="695.30" y2="910.00" stroke="#555" stroke-width="1.9"/>
<line x1="268.20" y1="1209.40" x2="268.20" y2="1215.40" stroke="#777" stroke-width="2.0"/>
<line x1="353.62" y1="1209.40" x2="353.62" y2="1215.40" stroke="#777" stroke-width="2.0"/>
<line x1="439.04" y1="1209.40" x2="439.04" y2="1215.40" stroke="#777" stroke-width="2.0"/>
<line x1="524.46" y1="1209.40" x2="524.46" y2="1215.40" stroke="#777" stroke-width="2.0"/>
<line x1="609.88" y1="1209.40" x2="609.88" y2="1215.40" stroke="#777" stroke-width="2.0"/>
<line x1="695.30" y1="1209.40" x2="695.30" y2="1215.40" stroke="#777" stroke-width="2.0"/>
<line x1="261.20" y1="760.30" x2="268.20" y2="760.30" stroke="#777" stroke-width="1.6"/>
<line x1="261.20" y1="910.00" x2="268.20" y2="910.00" stroke="#777" stroke-width="1.6"/>
<line x1="261.20" y1="1059.70" x2="268.20" y2="1059.70" stroke="#777" stroke-width="1.6"/>
<line x1="261.20" y1="1209.40" x2="268.20" y2="1209.40" stroke="#777" stroke-width="1.6"/>
<path d="M268.4,941.0 C273.7,940.9 289.7,940.9 300.0,940.6 C310.3,940.3 321.0,939.6 330.0,939.0 C339.0,938.4 345.7,937.7 354.0,937.0 C362.3,936.3 371.2,935.8 380.0,934.7 C388.8,933.7 397.0,932.2 406.7,930.7 C416.4,929.2 429.1,927.5 438.0,926.0 C446.9,924.5 453.0,923.5 460.0,922.0 C467.0,920.5 473.3,919.1 480.0,917.3 C486.7,915.5 494.4,913.0 500.0,911.3 C505.6,909.6 508.8,908.6 513.3,907.3 C517.8,906.0 522.2,904.4 526.7,903.3 C531.2,902.2 535.6,901.4 540.0,900.7 C544.4,900.0 548.8,899.5 553.3,899.0 C557.8,898.5 562.2,898.2 566.7,898.0 C571.2,897.8 571.1,897.8 580.0,897.8 C588.9,897.8 600.9,897.8 620.0,897.8 C639.1,897.8 682.1,897.8 694.5,897.8" fill="none" stroke="#000" stroke-width="4.1" stroke-linecap="round" stroke-linejoin="round"/>
<path d="M268.4,995.6 C272.0,995.3 281.4,994.9 290.0,994.0 C298.6,993.1 309.3,991.8 320.0,990.0 C330.7,988.2 344.0,985.5 354.0,983.0 C364.0,980.5 371.2,978.3 380.0,975.3 C388.8,972.2 397.0,968.6 406.7,964.7 C416.4,960.8 429.1,956.0 438.0,952.0 C446.9,948.0 453.0,944.5 460.0,940.7 C467.0,936.9 473.3,933.1 480.0,929.3 C486.7,925.5 494.4,921.0 500.0,918.0 C505.6,915.0 509.3,913.1 513.3,911.0 C517.3,908.9 520.7,906.8 524.0,905.3 C527.3,903.8 529.5,902.9 533.3,902.0 C537.1,901.1 542.2,900.3 546.7,899.7 C551.2,899.1 554.5,898.8 560.0,898.5 C565.5,898.2 570.0,897.9 580.0,897.8 C590.0,897.7 600.9,897.8 620.0,897.8 C639.1,897.8 682.1,897.8 694.5,897.8" fill="none" stroke="#000" stroke-width="3.9" stroke-linecap="round" stroke-linejoin="round"/>
<path d="M268.4,1033.0 C272.0,1032.3 281.4,1031.2 290.0,1029.0 C298.6,1026.8 309.3,1023.8 320.0,1020.0 C330.7,1016.2 344.0,1010.5 354.0,1006.0 C364.0,1001.5 371.2,997.8 380.0,993.0 C388.8,988.2 397.0,983.0 406.7,977.5 C416.4,972.0 429.1,965.6 438.0,960.0 C446.9,954.4 453.0,948.9 460.0,944.0 C467.0,939.1 473.3,935.0 480.0,930.7 C486.7,926.4 494.4,921.7 500.0,918.4 C505.6,915.1 509.3,913.2 513.3,911.0 C517.3,908.8 520.7,906.8 524.0,905.3 C527.3,903.8 529.5,902.9 533.3,902.0 C537.1,901.1 542.2,900.3 546.7,899.7 C551.2,899.1 557.8,898.7 560.0,898.5" fill="none" stroke="#000" stroke-width="3.9" stroke-linecap="round" stroke-linejoin="round"/>
<path d="M314.0,1050.0 C316.7,1048.5 323.3,1045.0 330.0,1041.0 C336.7,1037.0 345.7,1031.5 354.0,1026.0 C362.3,1020.5 371.2,1014.3 380.0,1008.0 C388.8,1001.7 397.0,995.1 406.7,988.0 C416.4,980.9 429.1,972.2 438.0,965.3 C446.9,958.4 453.0,952.3 460.0,946.7 C467.0,941.1 473.3,936.4 480.0,931.7 C486.7,927.0 494.4,922.2 500.0,918.7 C505.6,915.2 509.3,913.2 513.3,911.0 C517.3,908.8 520.7,906.8 524.0,905.3 C527.3,903.8 529.5,902.9 533.3,902.0 C537.1,901.1 542.2,900.3 546.7,899.7 C551.2,899.1 557.8,898.7 560.0,898.5" fill="none" stroke="#000" stroke-width="4.0" stroke-linecap="round" stroke-linejoin="round"/>
<path d="M310.0,1075.0 C313.3,1072.2 322.7,1064.2 330.0,1058.0 C337.3,1051.8 345.7,1045.0 354.0,1038.0 C362.3,1031.0 371.2,1023.5 380.0,1016.0 C388.8,1008.5 397.0,1001.2 406.7,993.0 C416.4,984.8 429.1,974.3 438.0,966.8 C446.9,959.3 453.0,953.5 460.0,947.8 C467.0,942.1 473.3,937.3 480.0,932.5 C486.7,927.7 494.4,922.6 500.0,919.0 C505.6,915.4 509.3,913.3 513.3,911.0 C517.3,908.7 520.7,906.8 524.0,905.3 C527.3,903.8 529.5,902.9 533.3,902.0 C537.1,901.1 542.2,900.3 546.7,899.7 C551.2,899.1 557.8,898.7 560.0,898.5" fill="none" stroke="#000" stroke-width="4.2" stroke-linecap="round" stroke-linejoin="round"/>
<path d="M305.0,1088.0 C309.2,1084.3 321.8,1073.3 330.0,1066.0 C338.2,1058.7 345.7,1051.7 354.0,1044.0 C362.3,1036.3 371.2,1028.1 380.0,1020.0 C388.8,1011.9 397.0,1004.2 406.7,995.5 C416.4,986.8 429.1,975.6 438.0,967.8 C446.9,960.0 453.0,954.4 460.0,948.6 C467.0,942.8 473.3,937.9 480.0,933.0 C486.7,928.1 494.4,922.9 500.0,919.2 C505.6,915.5 509.3,913.3 513.3,911.0 C517.3,908.7 520.7,906.8 524.0,905.3 C527.3,903.8 529.5,902.9 533.3,902.0 C537.1,901.1 542.2,900.3 546.7,899.7 C551.2,899.1 557.8,898.7 560.0,898.5" fill="none" stroke="#000" stroke-width="4.2" stroke-linecap="round" stroke-linejoin="round"/>
<path d="M305.0,1101.0 C309.2,1096.5 321.8,1082.8 330.0,1074.0 C338.2,1065.2 345.7,1057.0 354.0,1048.5 C362.3,1040.0 371.2,1031.2 380.0,1022.7 C388.8,1014.2 397.0,1006.3 406.7,997.3 C416.4,988.3 429.1,976.9 438.0,968.9 C446.9,960.9 453.0,955.4 460.0,949.5 C467.0,943.6 473.3,938.5 480.0,933.5 C486.7,928.5 494.4,923.1 500.0,919.4 C505.6,915.6 509.3,913.4 513.3,911.0 C517.3,908.6 520.7,906.8 524.0,905.3 C527.3,903.8 529.5,902.9 533.3,902.0 C537.1,901.1 542.2,900.3 546.7,899.7 C551.2,899.1 557.8,898.7 560.0,898.5" fill="none" stroke="#000" stroke-width="4.4" stroke-linecap="round" stroke-linejoin="round"/>
<rect x="270.5" y="916.0" width="24" height="12" fill="#fff"/>
<text transform="translate(272.50,925.50) scale(1.340,1)" font-family='"Liberation Sans", "DejaVu Sans", sans-serif' font-size="9.6" font-weight="normal" font-style="normal" text-anchor="start" fill="#111" stroke="#111" stroke-width="0.35">0.5</text>
<rect x="270.0" y="970.0" width="24" height="12" fill="#fff"/>
<text transform="translate(272.00,979.50) scale(1.340,1)" font-family='"Liberation Sans", "DejaVu Sans", sans-serif' font-size="9.6" font-weight="normal" font-style="normal" text-anchor="start" fill="#111" stroke="#111" stroke-width="0.35">0.2</text>
<rect x="274.5" y="1008.0" width="22" height="12" fill="#fff"/>
<text transform="translate(276.50,1017.50) scale(1.340,1)" font-family='"Liberation Sans", "DejaVu Sans", sans-serif' font-size="9.6" font-weight="normal" font-style="normal" text-anchor="start" fill="#111" stroke="#111" stroke-width="0.35">0.1</text>
<rect x="282.5" y="1041.5" width="31" height="12" fill="#fff"/>
<text transform="translate(284.50,1051.00) scale(1.340,1)" font-family='"Liberation Sans", "DejaVu Sans", sans-serif' font-size="9.6" font-weight="normal" font-style="normal" text-anchor="start" fill="#111" stroke="#111" stroke-width="0.35">0.05</text>
<rect x="277.5" y="1067.5" width="31" height="12" fill="#fff"/>
<text transform="translate(279.50,1077.00) scale(1.340,1)" font-family='"Liberation Sans", "DejaVu Sans", sans-serif' font-size="9.6" font-weight="normal" font-style="normal" text-anchor="start" fill="#111" stroke="#111" stroke-width="0.35">0.02</text>
<rect x="273.5" y="1094.5" width="31" height="12" fill="#fff"/>
<text transform="translate(275.50,1104.00) scale(1.340,1)" font-family='"Liberation Sans", "DejaVu Sans", sans-serif' font-size="9.6" font-weight="normal" font-style="normal" text-anchor="start" fill="#111" stroke="#111" stroke-width="0.35">0.01</text>
<rect x="276.5" y="1117.0" width="74" height="14" fill="#fff"/>
<text transform="translate(278.50,1128.50) scale(1.340,1)" font-family='"Liberation Sans", "DejaVu Sans", sans-serif' font-size="9.6" font-weight="normal" font-style="normal" text-anchor="start" fill="#111" stroke="#111" stroke-width="0.35">single pulse</text>
<path d="M268.5,1063.5 C270.6,1063.0 276.8,1061.6 281.0,1060.8 C285.2,1060.0 291.8,1059.0 294.0,1058.6" fill="none" stroke="#000" stroke-width="3.0" stroke-linecap="round" stroke-linejoin="round"/>
<path d="M279.5,1088.0 C280.9,1087.5 285.1,1086.0 288.0,1085.2 C290.9,1084.4 295.5,1083.5 297.0,1083.2" fill="none" stroke="#000" stroke-width="3.0" stroke-linecap="round" stroke-linejoin="round"/>
<path d="M288.5,1112.0 C289.5,1111.8 293.5,1110.8 294.5,1110.6" fill="none" stroke="#000" stroke-width="3.0" stroke-linecap="round" stroke-linejoin="round"/>
<circle cx="269.6" cy="1093.5" r="2.2" fill="#000"/>
<circle cx="269.6" cy="1108.5" r="2.2" fill="#000"/>
<circle cx="270.5" cy="1125.5" r="2.2" fill="#000"/>
<line x1="268.20" y1="759.10" x2="268.20" y2="1210.90" stroke="#000" stroke-width="4.0"/>
<line x1="268.20" y1="1209.40" x2="696.50" y2="1209.40" stroke="#000" stroke-width="3.8"/>
<line x1="268.20" y1="760.30" x2="696.50" y2="760.30" stroke="#000" stroke-width="3.0"/>
<line x1="695.30" y1="760.30" x2="695.30" y2="1209.40" stroke="#111" stroke-width="3.0"/>
<text transform="translate(238.50,766.10) scale(1.340,1)" font-family='"Liberation Sans", "DejaVu Sans", sans-serif' font-size="12.6" font-weight="bold" font-style="normal" text-anchor="middle" fill="#222" stroke="#151515" stroke-width="0.55">10<tspan font-size="0.56em" dy="-0.98em" dx="0.1em">1</tspan></text>
<text transform="translate(238.50,915.80) scale(1.340,1)" font-family='"Liberation Sans", "DejaVu Sans", sans-serif' font-size="12.6" font-weight="bold" font-style="normal" text-anchor="middle" fill="#222" stroke="#151515" stroke-width="0.55">10<tspan font-size="0.56em" dy="-0.98em" dx="0.1em">0</tspan></text>
<text transform="translate(238.50,1065.50) scale(1.340,1)" font-family='"Liberation Sans", "DejaVu Sans", sans-serif' font-size="12.6" font-weight="bold" font-style="normal" text-anchor="middle" fill="#222" stroke="#151515" stroke-width="0.55">10<tspan font-size="0.56em" dy="-0.98em" dx="0.1em">-1</tspan></text>
<text transform="translate(238.50,1215.20) scale(1.340,1)" font-family='"Liberation Sans", "DejaVu Sans", sans-serif' font-size="12.6" font-weight="bold" font-style="normal" text-anchor="middle" fill="#222" stroke="#151515" stroke-width="0.55">10<tspan font-size="0.56em" dy="-0.98em" dx="0.1em">-2</tspan></text>
<text transform="translate(269.70,1241.00) scale(1.340,1)" font-family='"Liberation Sans", "DejaVu Sans", sans-serif' font-size="12.6" font-weight="bold" font-style="normal" text-anchor="middle" fill="#222" stroke="#151515" stroke-width="0.55">10<tspan font-size="0.56em" dy="-0.98em" dx="0.1em">-5</tspan></text>
<text transform="translate(355.12,1241.00) scale(1.340,1)" font-family='"Liberation Sans", "DejaVu Sans", sans-serif' font-size="12.6" font-weight="bold" font-style="normal" text-anchor="middle" fill="#222" stroke="#151515" stroke-width="0.55">10<tspan font-size="0.56em" dy="-0.98em" dx="0.1em">-4</tspan></text>
<text transform="translate(440.54,1241.00) scale(1.340,1)" font-family='"Liberation Sans", "DejaVu Sans", sans-serif' font-size="12.6" font-weight="bold" font-style="normal" text-anchor="middle" fill="#222" stroke="#151515" stroke-width="0.55">10<tspan font-size="0.56em" dy="-0.98em" dx="0.1em">-3</tspan></text>
<text transform="translate(525.96,1241.00) scale(1.340,1)" font-family='"Liberation Sans", "DejaVu Sans", sans-serif' font-size="12.6" font-weight="bold" font-style="normal" text-anchor="middle" fill="#222" stroke="#151515" stroke-width="0.55">10<tspan font-size="0.56em" dy="-0.98em" dx="0.1em">-2</tspan></text>
<text transform="translate(611.38,1241.00) scale(1.340,1)" font-family='"Liberation Sans", "DejaVu Sans", sans-serif' font-size="12.6" font-weight="bold" font-style="normal" text-anchor="middle" fill="#222" stroke="#151515" stroke-width="0.55">10<tspan font-size="0.56em" dy="-0.98em" dx="0.1em">-1</tspan></text>
<text transform="translate(696.80,1241.00) scale(1.340,1)" font-family='"Liberation Sans", "DejaVu Sans", sans-serif' font-size="12.6" font-weight="bold" font-style="normal" text-anchor="middle" fill="#222" stroke="#151515" stroke-width="0.55">10<tspan font-size="0.56em" dy="-0.98em" dx="0.1em">0</tspan></text>
<text transform="translate(198.40,985.00) scale(1.340,1) rotate(-90)" font-family='"Liberation Sans", "DejaVu Sans", sans-serif' font-size="15.0" font-weight="bold" font-style="normal" text-anchor="middle" fill="#222" textLength="85.0" lengthAdjust="spacingAndGlyphs" stroke="#151515" stroke-width="0.7"><tspan font-style="normal">Z</tspan><tspan font-size="0.66em" dy="0.24em" font-style="normal">thJC</tspan><tspan dy="-0.158em" font-style="normal"> [K/W]</tspan></text>
</g>
<text transform="translate(406.60,1277.00)" font-family='"Liberation Sans", "DejaVu Sans", sans-serif' font-size="15.5" font-weight="normal" font-style="normal" text-anchor="start" fill="#222" textLength="106.8" lengthAdjust="spacingAndGlyphs">Pulse Width (s)</text>
<text transform="translate(277.80,1297.20)" font-family='"Liberation Sans", "DejaVu Sans", sans-serif' font-size="15.5" font-weight="normal" font-style="normal" text-anchor="start" fill="#222" textLength="365.5" lengthAdjust="spacingAndGlyphs">Figure 15: Maximum Transient Thermal Impedance</text>
<text transform="translate(433.50,1316.60)" font-family='"Liberation Sans", "DejaVu Sans", sans-serif' font-size="15.5" font-weight="normal" font-style="normal" text-anchor="start" fill="#222" textLength="54.3" lengthAdjust="spacingAndGlyphs">TO-220</text>
</g>
<g id="fig16">
<g filter="url(#soft2)">
<rect x="962.36" y="754.5" width="16.61" height="451.30" fill="#000" fill-opacity="0.06"/>
<line x1="932.86" y1="754.50" x2="932.86" y2="1205.80" stroke="#cecece" stroke-width="2.7"/>
<line x1="944.47" y1="754.50" x2="944.47" y2="1205.80" stroke="#cecece" stroke-width="2.7"/>
<line x1="952.72" y1="754.50" x2="952.72" y2="1205.80" stroke="#cecece" stroke-width="2.7"/>
<line x1="959.11" y1="754.50" x2="959.11" y2="1205.80" stroke="#cecece" stroke-width="2.7"/>
<line x1="964.33" y1="754.50" x2="964.33" y2="1205.80" stroke="#cecece" stroke-width="2.7"/>
<line x1="968.75" y1="754.50" x2="968.75" y2="1205.80" stroke="#cecece" stroke-width="2.7"/>
<line x1="972.57" y1="754.50" x2="972.57" y2="1205.80" stroke="#cecece" stroke-width="2.7"/>
<line x1="975.95" y1="754.50" x2="975.95" y2="1205.80" stroke="#cecece" stroke-width="2.7"/>
<rect x="1028.32" y="754.5" width="16.61" height="451.30" fill="#000" fill-opacity="0.06"/>
<line x1="998.82" y1="754.50" x2="998.82" y2="1205.80" stroke="#cecece" stroke-width="2.7"/>
<line x1="1010.44" y1="754.50" x2="1010.44" y2="1205.80" stroke="#cecece" stroke-width="2.7"/>
<line x1="1018.68" y1="754.50" x2="1018.68" y2="1205.80" stroke="#cecece" stroke-width="2.7"/>
<line x1="1025.08" y1="754.50" x2="1025.08" y2="1205.80" stroke="#cecece" stroke-width="2.7"/>
<line x1="1030.30" y1="754.50" x2="1030.30" y2="1205.80" stroke="#cecece" stroke-width="2.7"/>
<line x1="1034.71" y1="754.50" x2="1034.71" y2="1205.80" stroke="#cecece" stroke-width="2.7"/>
<line x1="1038.54" y1="754.50" x2="1038.54" y2="1205.80" stroke="#cecece" stroke-width="2.7"/>
<line x1="1041.91" y1="754.50" x2="1041.91" y2="1205.80" stroke="#cecece" stroke-width="2.7"/>
<line x1="978.97" y1="754.50" x2="978.97" y2="1205.80" stroke="#999" stroke-width="2.4"/>
<rect x="1094.29" y="754.5" width="16.61" height="451.30" fill="#000" fill-opacity="0.06"/>
<line x1="1064.79" y1="754.50" x2="1064.79" y2="1205.80" stroke="#cecece" stroke-width="2.7"/>
<line x1="1076.41" y1="754.50" x2="1076.41" y2="1205.80" stroke="#cecece" stroke-width="2.7"/>
<line x1="1084.65" y1="754.50" x2="1084.65" y2="1205.80" stroke="#cecece" stroke-width="2.7"/>
<line x1="1091.04" y1="754.50" x2="1091.04" y2="1205.80" stroke="#cecece" stroke-width="2.7"/>
<line x1="1096.27" y1="754.50" x2="1096.27" y2="1205.80" stroke="#cecece" stroke-width="2.7"/>
<line x1="1100.68" y1="754.50" x2="1100.68" y2="1205.80" stroke="#cecece" stroke-width="2.7"/>
<line x1="1104.51" y1="754.50" x2="1104.51" y2="1205.80" stroke="#cecece" stroke-width="2.7"/>
<line x1="1107.88" y1="754.50" x2="1107.88" y2="1205.80" stroke="#cecece" stroke-width="2.7"/>
<line x1="1044.93" y1="754.50" x2="1044.93" y2="1205.80" stroke="#999" stroke-width="2.4"/>
<rect x="1160.26" y="754.5" width="16.61" height="451.30" fill="#000" fill-opacity="0.06"/>
<line x1="1130.76" y1="754.50" x2="1130.76" y2="1205.80" stroke="#cecece" stroke-width="2.7"/>
<line x1="1142.37" y1="754.50" x2="1142.37" y2="1205.80" stroke="#cecece" stroke-width="2.7"/>
<line x1="1150.62" y1="754.50" x2="1150.62" y2="1205.80" stroke="#cecece" stroke-width="2.7"/>
<line x1="1157.01" y1="754.50" x2="1157.01" y2="1205.80" stroke="#cecece" stroke-width="2.7"/>
<line x1="1162.23" y1="754.50" x2="1162.23" y2="1205.80" stroke="#cecece" stroke-width="2.7"/>
<line x1="1166.65" y1="754.50" x2="1166.65" y2="1205.80" stroke="#cecece" stroke-width="2.7"/>
<line x1="1170.47" y1="754.50" x2="1170.47" y2="1205.80" stroke="#cecece" stroke-width="2.7"/>
<line x1="1173.85" y1="754.50" x2="1173.85" y2="1205.80" stroke="#cecece" stroke-width="2.7"/>
<line x1="1110.90" y1="754.50" x2="1110.90" y2="1205.80" stroke="#999" stroke-width="2.4"/>
<rect x="1226.22" y="754.5" width="16.61" height="451.30" fill="#000" fill-opacity="0.06"/>
<line x1="1196.72" y1="754.50" x2="1196.72" y2="1205.80" stroke="#cecece" stroke-width="2.7"/>
<line x1="1208.34" y1="754.50" x2="1208.34" y2="1205.80" stroke="#cecece" stroke-width="2.7"/>
<line x1="1216.58" y1="754.50" x2="1216.58" y2="1205.80" stroke="#cecece" stroke-width="2.7"/>
<line x1="1222.98" y1="754.50" x2="1222.98" y2="1205.80" stroke="#cecece" stroke-width="2.7"/>
<line x1="1228.20" y1="754.50" x2="1228.20" y2="1205.80" stroke="#cecece" stroke-width="2.7"/>
<line x1="1232.61" y1="754.50" x2="1232.61" y2="1205.80" stroke="#cecece" stroke-width="2.7"/>
<line x1="1236.44" y1="754.50" x2="1236.44" y2="1205.80" stroke="#cecece" stroke-width="2.7"/>
<line x1="1239.81" y1="754.50" x2="1239.81" y2="1205.80" stroke="#cecece" stroke-width="2.7"/>
<line x1="1176.87" y1="754.50" x2="1176.87" y2="1205.80" stroke="#999" stroke-width="2.4"/>
<rect x="1292.19" y="754.5" width="16.61" height="451.30" fill="#000" fill-opacity="0.06"/>
<line x1="1262.69" y1="754.50" x2="1262.69" y2="1205.80" stroke="#cecece" stroke-width="2.7"/>
<line x1="1274.31" y1="754.50" x2="1274.31" y2="1205.80" stroke="#cecece" stroke-width="2.7"/>
<line x1="1282.55" y1="754.50" x2="1282.55" y2="1205.80" stroke="#cecece" stroke-width="2.7"/>
<line x1="1288.94" y1="754.50" x2="1288.94" y2="1205.80" stroke="#cecece" stroke-width="2.7"/>
<line x1="1294.17" y1="754.50" x2="1294.17" y2="1205.80" stroke="#cecece" stroke-width="2.7"/>
<line x1="1298.58" y1="754.50" x2="1298.58" y2="1205.80" stroke="#cecece" stroke-width="2.7"/>
<line x1="1302.41" y1="754.50" x2="1302.41" y2="1205.80" stroke="#cecece" stroke-width="2.7"/>
<line x1="1305.78" y1="754.50" x2="1305.78" y2="1205.80" stroke="#cecece" stroke-width="2.7"/>
<line x1="1242.83" y1="754.50" x2="1242.83" y2="1205.80" stroke="#999" stroke-width="2.4"/>
<line x1="913.00" y1="1160.52" x2="1308.80" y2="1160.52" stroke="#939393" stroke-width="1.15"/>
<line x1="913.00" y1="1134.03" x2="1308.80" y2="1134.03" stroke="#939393" stroke-width="1.15"/>
<line x1="913.00" y1="1115.23" x2="1308.80" y2="1115.23" stroke="#939393" stroke-width="1.15"/>
<line x1="913.00" y1="1100.65" x2="1308.80" y2="1100.65" stroke="#939393" stroke-width="1.15"/>
<line x1="913.00" y1="1088.74" x2="1308.80" y2="1088.74" stroke="#939393" stroke-width="1.15"/>
<line x1="913.00" y1="1078.67" x2="1308.80" y2="1078.67" stroke="#939393" stroke-width="1.15"/>
<line x1="913.00" y1="1069.95" x2="1308.80" y2="1069.95" stroke="#939393" stroke-width="1.15"/>
<line x1="913.00" y1="1062.25" x2="1308.80" y2="1062.25" stroke="#939393" stroke-width="1.15"/>
<line x1="913.00" y1="1010.08" x2="1308.80" y2="1010.08" stroke="#939393" stroke-width="1.15"/>
<line x1="913.00" y1="983.59" x2="1308.80" y2="983.59" stroke="#939393" stroke-width="1.15"/>
<line x1="913.00" y1="964.80" x2="1308.80" y2="964.80" stroke="#939393" stroke-width="1.15"/>
<line x1="913.00" y1="950.22" x2="1308.80" y2="950.22" stroke="#939393" stroke-width="1.15"/>
<line x1="913.00" y1="938.31" x2="1308.80" y2="938.31" stroke="#939393" stroke-width="1.15"/>
<line x1="913.00" y1="928.24" x2="1308.80" y2="928.24" stroke="#939393" stroke-width="1.15"/>
<line x1="913.00" y1="919.51" x2="1308.80" y2="919.51" stroke="#939393" stroke-width="1.15"/>
<line x1="913.00" y1="911.82" x2="1308.80" y2="911.82" stroke="#939393" stroke-width="1.15"/>
<line x1="913.00" y1="1055.37" x2="1308.80" y2="1055.37" stroke="#555" stroke-width="1.9"/>
<line x1="913.00" y1="859.65" x2="1308.80" y2="859.65" stroke="#939393" stroke-width="1.15"/>
<line x1="913.00" y1="833.16" x2="1308.80" y2="833.16" stroke="#939393" stroke-width="1.15"/>
<line x1="913.00" y1="814.36" x2="1308.80" y2="814.36" stroke="#939393" stroke-width="1.15"/>
<line x1="913.00" y1="799.78" x2="1308.80" y2="799.78" stroke="#939393" stroke-width="1.15"/>
<line x1="913.00" y1="787.87" x2="1308.80" y2="787.87" stroke="#939393" stroke-width="1.15"/>
<line x1="913.00" y1="777.80" x2="1308.80" y2="777.80" stroke="#939393" stroke-width="1.15"/>
<line x1="913.00" y1="769.08" x2="1308.80" y2="769.08" stroke="#939393" stroke-width="1.15"/>
<line x1="913.00" y1="761.38" x2="1308.80" y2="761.38" stroke="#939393" stroke-width="1.15"/>
<line x1="913.00" y1="904.93" x2="1308.80" y2="904.93" stroke="#555" stroke-width="1.9"/>
<line x1="907.00" y1="754.50" x2="913.00" y2="754.50" stroke="#777" stroke-width="1.6"/>
<line x1="907.00" y1="904.93" x2="913.00" y2="904.93" stroke="#777" stroke-width="1.6"/>
<line x1="907.00" y1="1055.37" x2="913.00" y2="1055.37" stroke="#777" stroke-width="1.6"/>
<line x1="907.00" y1="1205.80" x2="913.00" y2="1205.80" stroke="#777" stroke-width="1.6"/>
<path d="M914.0,860.8 C920.0,860.7 939.0,860.6 950.0,860.4 C961.0,860.2 969.2,860.0 980.0,859.6 C990.8,859.2 1003.8,858.8 1015.0,858.2 C1026.2,857.6 1036.2,856.9 1047.0,856.0 C1057.8,855.1 1069.5,854.0 1080.0,852.8 C1090.5,851.6 1100.0,850.6 1110.0,849.0 C1120.0,847.4 1130.0,844.6 1140.0,843.0 C1150.0,841.4 1160.0,840.2 1170.0,839.4 C1180.0,838.6 1191.7,838.6 1200.0,838.0 C1208.3,837.4 1213.3,837.0 1220.0,836.0 C1226.7,835.0 1233.3,833.6 1240.0,832.0 C1246.7,830.4 1253.3,828.3 1260.0,826.4 C1266.7,824.5 1274.3,821.9 1280.0,820.4 C1285.7,818.9 1289.3,817.9 1294.0,817.2 C1298.7,816.5 1305.7,816.2 1308.0,816.0" fill="none" stroke="#000" stroke-width="3.6" stroke-linecap="round" stroke-linejoin="round"/>
<path d="M914.0,918.0 C918.3,917.8 932.3,917.4 940.0,917.0 C947.7,916.6 950.0,916.8 960.0,915.6 C970.0,914.4 986.7,912.0 1000.0,910.0 C1013.3,908.0 1028.3,905.5 1040.0,903.4 C1051.7,901.3 1060.0,900.2 1070.0,897.5 C1080.0,894.8 1091.7,890.4 1100.0,887.0 C1108.3,883.6 1113.3,880.2 1120.0,877.0 C1126.7,873.8 1133.3,870.3 1140.0,868.0 C1146.7,865.7 1153.3,864.3 1160.0,863.0 C1166.7,861.7 1173.3,861.0 1180.0,860.0 C1186.7,859.0 1193.3,858.3 1200.0,857.0 C1206.7,855.7 1213.3,854.3 1220.0,852.0 C1226.7,849.7 1233.3,846.5 1240.0,843.0 C1246.7,839.5 1254.0,834.3 1260.0,831.0 C1266.0,827.7 1271.0,825.1 1276.0,823.0 C1281.0,820.9 1287.7,819.2 1290.0,818.4" fill="none" stroke="#000" stroke-width="3.3" stroke-linecap="round" stroke-linejoin="round"/>
<path d="M914.0,961.0 C920.0,960.7 939.0,960.3 950.0,959.0 C961.0,957.7 970.0,955.7 980.0,953.0 C990.0,950.3 1000.0,946.5 1010.0,943.0 C1020.0,939.5 1030.0,935.7 1040.0,932.0 C1050.0,928.3 1060.0,925.7 1070.0,921.0 C1080.0,916.3 1091.7,909.3 1100.0,904.0 C1108.3,898.7 1113.3,893.6 1120.0,889.0 C1126.7,884.4 1133.3,879.9 1140.0,876.5 C1146.7,873.1 1153.3,870.4 1160.0,868.5 C1166.7,866.6 1173.3,866.1 1180.0,865.0 C1186.7,863.9 1193.3,863.5 1200.0,862.0 C1206.7,860.5 1213.3,858.7 1220.0,856.0 C1226.7,853.3 1233.3,849.9 1240.0,846.0 C1246.7,842.1 1254.0,836.2 1260.0,832.5 C1266.0,828.8 1271.0,826.3 1276.0,824.0 C1281.0,821.7 1287.7,819.5 1290.0,818.6" fill="none" stroke="#000" stroke-width="3.3" stroke-linecap="round" stroke-linejoin="round"/>
<path d="M944.0,995.8 C947.2,995.0 957.0,992.8 963.0,991.0 C969.0,989.2 974.4,987.5 980.0,985.0 C985.6,982.5 991.2,978.8 996.7,975.8 C1002.2,972.8 1007.5,969.8 1013.0,966.7 C1018.5,963.7 1022.2,961.6 1030.0,957.5 C1037.8,953.4 1050.0,948.1 1060.0,942.0 C1070.0,935.9 1082.5,926.8 1090.0,921.0 C1097.5,915.2 1100.0,911.8 1105.0,907.0 C1110.0,902.2 1114.2,896.7 1120.0,892.0 C1125.8,887.3 1133.3,882.4 1140.0,879.0 C1146.7,875.6 1153.3,873.3 1160.0,871.5 C1166.7,869.7 1173.3,869.1 1180.0,868.0 C1186.7,866.9 1193.3,866.6 1200.0,865.0 C1206.7,863.4 1213.3,861.3 1220.0,858.5 C1226.7,855.7 1233.3,852.1 1240.0,848.0 C1246.7,843.9 1254.0,837.8 1260.0,834.0 C1266.0,830.2 1271.0,827.5 1276.0,825.0 C1281.0,822.5 1287.7,819.8 1290.0,818.8" fill="none" stroke="#000" stroke-width="3.3" stroke-linecap="round" stroke-linejoin="round"/>
<path d="M948.0,1035.8 C950.5,1034.5 957.7,1031.2 963.0,1028.0 C968.3,1024.8 974.4,1021.1 980.0,1016.7 C985.6,1012.3 991.2,1006.5 996.7,1001.7 C1002.2,996.9 1007.5,992.2 1013.0,988.0 C1018.5,983.8 1024.4,980.2 1030.0,976.7 C1035.6,973.2 1041.7,969.7 1046.7,966.7 C1051.7,963.7 1054.5,961.8 1060.0,958.5 C1065.5,955.2 1073.3,952.4 1080.0,947.0 C1086.7,941.6 1093.3,934.2 1100.0,926.0 C1106.7,917.8 1113.3,905.3 1120.0,898.0 C1126.7,890.7 1133.3,886.0 1140.0,882.0 C1146.7,878.0 1153.3,875.9 1160.0,874.0 C1166.7,872.1 1173.3,871.6 1180.0,870.5 C1186.7,869.4 1193.3,869.1 1200.0,867.5 C1206.7,865.9 1213.3,863.9 1220.0,861.0 C1226.7,858.1 1233.3,854.2 1240.0,850.0 C1246.7,845.8 1254.0,839.6 1260.0,835.5 C1266.0,831.4 1271.0,828.2 1276.0,825.5 C1281.0,822.8 1287.7,820.1 1290.0,819.0" fill="none" stroke="#000" stroke-width="3.3" stroke-linecap="round" stroke-linejoin="round"/>
<path d="M938.0,1061.7 C940.8,1060.2 949.4,1056.5 955.0,1052.5 C960.6,1048.5 966.2,1043.1 971.7,1038.0 C977.2,1032.9 982.5,1027.4 988.0,1021.7 C993.5,1016.0 999.4,1009.3 1005.0,1004.0 C1010.6,998.7 1016.2,994.3 1021.7,990.0 C1027.2,985.7 1032.5,981.8 1038.0,978.0 C1043.5,974.2 1050.5,970.3 1055.0,967.5 C1059.5,964.7 1060.8,963.8 1065.0,961.0 C1069.2,958.2 1074.2,956.2 1080.0,951.0 C1085.8,945.8 1093.3,938.3 1100.0,930.0 C1106.7,921.7 1113.3,908.6 1120.0,901.0 C1126.7,893.4 1133.3,888.6 1140.0,884.5 C1146.7,880.4 1153.3,878.4 1160.0,876.5 C1166.7,874.6 1173.3,874.1 1180.0,873.0 C1186.7,871.9 1193.3,871.7 1200.0,870.0 C1206.7,868.3 1213.3,866.1 1220.0,863.0 C1226.7,859.9 1233.3,855.9 1240.0,851.5 C1246.7,847.1 1254.0,840.8 1260.0,836.5 C1266.0,832.2 1271.0,828.9 1276.0,826.0 C1281.0,823.1 1287.7,820.3 1290.0,819.2" fill="none" stroke="#000" stroke-width="3.3" stroke-linecap="round" stroke-linejoin="round"/>
<path d="M940.0,1097.5 C942.5,1094.2 949.7,1084.8 955.0,1078.0 C960.3,1071.2 966.2,1063.9 971.7,1056.7 C977.2,1049.5 982.5,1042.3 988.0,1035.0 C993.5,1027.7 999.4,1019.5 1005.0,1013.0 C1010.6,1006.5 1016.2,1000.9 1021.7,995.8 C1027.2,990.7 1032.5,986.7 1038.0,982.5 C1043.5,978.3 1050.0,974.2 1055.0,970.8 C1060.0,967.4 1063.8,964.6 1068.0,962.0 C1072.2,959.4 1074.7,959.7 1080.0,955.0 C1085.3,950.3 1093.3,942.5 1100.0,934.0 C1106.7,925.5 1113.3,911.8 1120.0,904.0 C1126.7,896.2 1133.3,891.2 1140.0,887.0 C1146.7,882.8 1153.3,880.9 1160.0,879.0 C1166.7,877.1 1173.3,876.6 1180.0,875.5 C1186.7,874.4 1193.3,874.2 1200.0,872.5 C1206.7,870.8 1213.3,868.2 1220.0,865.0 C1226.7,861.8 1233.3,857.6 1240.0,853.0 C1246.7,848.4 1254.0,841.9 1260.0,837.5 C1266.0,833.1 1271.0,829.5 1276.0,826.5 C1281.0,823.5 1286.0,821.1 1290.0,819.5 C1294.0,817.9 1298.3,817.4 1300.0,817.0" fill="none" stroke="#000" stroke-width="3.5" stroke-linecap="round" stroke-linejoin="round"/>
<rect x="917.5" y="838.1" width="24" height="12" fill="#fff"/>
<text transform="translate(919.50,847.60) scale(1.340,1)" font-family='"Liberation Sans", "DejaVu Sans", sans-serif' font-size="9.6" font-weight="normal" font-style="normal" text-anchor="start" fill="#111" stroke="#111" stroke-width="0.35">0.5</text>
<rect x="917.5" y="894.7" width="24" height="12" fill="#fff"/>
<text transform="translate(919.50,904.20) scale(1.340,1)" font-family='"Liberation Sans", "DejaVu Sans", sans-serif' font-size="9.6" font-weight="normal" font-style="normal" text-anchor="start" fill="#111" stroke="#111" stroke-width="0.35">0.2</text>
<rect x="917.5" y="940.7" width="24" height="12" fill="#fff"/>
<text transform="translate(919.50,950.20) scale(1.340,1)" font-family='"Liberation Sans", "DejaVu Sans", sans-serif' font-size="9.6" font-weight="normal" font-style="normal" text-anchor="start" fill="#111" stroke="#111" stroke-width="0.35">0.1</text>
<rect x="915.8" y="992.9" width="29" height="12" fill="#fff"/>
<text transform="translate(917.80,1002.40) scale(1.340,1)" font-family='"Liberation Sans", "DejaVu Sans", sans-serif' font-size="9.6" font-weight="normal" font-style="normal" text-anchor="start" fill="#111" stroke="#111" stroke-width="0.35">0.05</text>
<rect x="919.5" y="1029.7" width="29" height="12" fill="#fff"/>
<text transform="translate(921.50,1039.20) scale(1.340,1)" font-family='"Liberation Sans", "DejaVu Sans", sans-serif' font-size="9.6" font-weight="normal" font-style="normal" text-anchor="start" fill="#111" stroke="#111" stroke-width="0.35">0.02</text>
<rect x="916.5" y="1068.5" width="29" height="12" fill="#fff"/>
<text transform="translate(918.50,1078.00) scale(1.340,1)" font-family='"Liberation Sans", "DejaVu Sans", sans-serif' font-size="9.6" font-weight="normal" font-style="normal" text-anchor="start" fill="#111" stroke="#111" stroke-width="0.35">0.01</text>
<rect x="915.5" y="1101.0" width="72" height="14" fill="#fff"/>
<text transform="translate(917.50,1112.50) scale(1.340,1)" font-family='"Liberation Sans", "DejaVu Sans", sans-serif' font-size="9.6" font-weight="normal" font-style="normal" text-anchor="start" fill="#111" stroke="#111" stroke-width="0.35">single pulse</text>
<path d="M914.0,1047.5 C916.2,1047.2 924.8,1045.8 927.0,1045.4" fill="none" stroke="#000" stroke-width="2.8" stroke-linecap="round" stroke-linejoin="round"/>
<circle cx="914.6" cy="1074.0" r="2.0" fill="#000"/>
<circle cx="915.0" cy="1121.5" r="2.0" fill="#000"/>
<line x1="913.00" y1="753.30" x2="913.00" y2="1207.30" stroke="#000" stroke-width="4.0"/>
<line x1="913.00" y1="1205.80" x2="1310.00" y2="1205.80" stroke="#000" stroke-width="3.8"/>
<line x1="913.00" y1="754.50" x2="1310.00" y2="754.50" stroke="#000" stroke-width="3.0"/>
<line x1="1308.80" y1="754.50" x2="1308.80" y2="1205.80" stroke="#111" stroke-width="3.0"/>
<text transform="translate(887.50,759.90) scale(1.340,1)" font-family='"Liberation Sans", "DejaVu Sans", sans-serif' font-size="12.6" font-weight="bold" font-style="normal" text-anchor="middle" fill="#222" stroke="#151515" stroke-width="0.55">10<tspan font-size="0.56em" dy="-0.98em" dx="0.1em">1</tspan></text>
<text transform="translate(887.50,910.33) scale(1.340,1)" font-family='"Liberation Sans", "DejaVu Sans", sans-serif' font-size="12.6" font-weight="bold" font-style="normal" text-anchor="middle" fill="#222" stroke="#151515" stroke-width="0.55">10<tspan font-size="0.56em" dy="-0.98em" dx="0.1em">0</tspan></text>
<text transform="translate(887.50,1060.77) scale(1.340,1)" font-family='"Liberation Sans", "DejaVu Sans", sans-serif' font-size="12.6" font-weight="bold" font-style="normal" text-anchor="middle" fill="#222" stroke="#151515" stroke-width="0.55">10<tspan font-size="0.56em" dy="-0.98em" dx="0.1em">-1</tspan></text>
<text transform="translate(887.50,1211.20) scale(1.340,1)" font-family='"Liberation Sans", "DejaVu Sans", sans-serif' font-size="12.6" font-weight="bold" font-style="normal" text-anchor="middle" fill="#222" stroke="#151515" stroke-width="0.55">10<tspan font-size="0.56em" dy="-0.98em" dx="0.1em">-2</tspan></text>
<text transform="translate(915.00,1236.00) scale(1.340,1)" font-family='"Liberation Sans", "DejaVu Sans", sans-serif' font-size="12.6" font-weight="bold" font-style="normal" text-anchor="middle" fill="#222" stroke="#151515" stroke-width="0.55">10<tspan font-size="0.56em" dy="-0.98em" dx="0.1em">-5</tspan></text>
<text transform="translate(980.97,1236.00) scale(1.340,1)" font-family='"Liberation Sans", "DejaVu Sans", sans-serif' font-size="12.6" font-weight="bold" font-style="normal" text-anchor="middle" fill="#222" stroke="#151515" stroke-width="0.55">10<tspan font-size="0.56em" dy="-0.98em" dx="0.1em">-4</tspan></text>
<text transform="translate(1046.93,1236.00) scale(1.340,1)" font-family='"Liberation Sans", "DejaVu Sans", sans-serif' font-size="12.6" font-weight="bold" font-style="normal" text-anchor="middle" fill="#222" stroke="#151515" stroke-width="0.55">10<tspan font-size="0.56em" dy="-0.98em" dx="0.1em">-3</tspan></text>
<text transform="translate(1112.90,1236.00) scale(1.340,1)" font-family='"Liberation Sans", "DejaVu Sans", sans-serif' font-size="12.6" font-weight="bold" font-style="normal" text-anchor="middle" fill="#222" stroke="#151515" stroke-width="0.55">10<tspan font-size="0.56em" dy="-0.98em" dx="0.1em">-2</tspan></text>
<text transform="translate(1178.87,1236.00) scale(1.340,1)" font-family='"Liberation Sans", "DejaVu Sans", sans-serif' font-size="12.6" font-weight="bold" font-style="normal" text-anchor="middle" fill="#222" stroke="#151515" stroke-width="0.55">10<tspan font-size="0.56em" dy="-0.98em" dx="0.1em">-1</tspan></text>
<text transform="translate(1244.83,1236.00) scale(1.340,1)" font-family='"Liberation Sans", "DejaVu Sans", sans-serif' font-size="12.6" font-weight="bold" font-style="normal" text-anchor="middle" fill="#222" stroke="#151515" stroke-width="0.55">10<tspan font-size="0.56em" dy="-0.98em" dx="0.1em">0</tspan></text>
<text transform="translate(1310.80,1236.00) scale(1.340,1)" font-family='"Liberation Sans", "DejaVu Sans", sans-serif' font-size="12.6" font-weight="bold" font-style="normal" text-anchor="middle" fill="#222" stroke="#151515" stroke-width="0.55">10<tspan font-size="0.56em" dy="-0.98em" dx="0.1em">1</tspan></text>
<text transform="translate(848.40,980.50) scale(1.340,1) rotate(-90)" font-family='"Liberation Sans", "DejaVu Sans", sans-serif' font-size="15.0" font-weight="bold" font-style="normal" text-anchor="middle" fill="#222" textLength="86.0" lengthAdjust="spacingAndGlyphs" stroke="#151515" stroke-width="0.7"><tspan font-style="normal">Z</tspan><tspan font-size="0.66em" dy="0.24em" font-style="normal">thJC</tspan><tspan dy="-0.158em" font-style="normal"> [K/W]</tspan></text>
</g>
<text transform="translate(1007.60,1278.30)" font-family='"Liberation Sans", "DejaVu Sans", sans-serif' font-size="15.5" font-weight="normal" font-style="normal" text-anchor="start" fill="#222" textLength="107.9" lengthAdjust="spacingAndGlyphs">Pulse Width (s)</text>
<text transform="translate(878.50,1298.40)" font-family='"Liberation Sans", "DejaVu Sans", sans-serif' font-size="15.5" font-weight="normal" font-style="normal" text-anchor="start" fill="#222" textLength="366.9" lengthAdjust="spacingAndGlyphs">Figure 16: Maximum Transient Thermal Impedance</text>
<text transform="translate(1003.80,1317.70)" font-family='"Liberation Sans", "DejaVu Sans", sans-serif' font-size="15.5" font-weight="normal" font-style="normal" text-anchor="start" fill="#222" textLength="115.2" lengthAdjust="spacingAndGlyphs">TO-220 FullPAK</text>
</g>
<g id="fig17">
<g filter="url(#soft2)">
<line x1="323.49" y1="1359.50" x2="323.49" y2="1781.80" stroke="#b6b6b6" stroke-width="3.0"/>
<line x1="376.27" y1="1359.50" x2="376.27" y2="1781.80" stroke="#b6b6b6" stroke-width="3.0"/>
<line x1="429.06" y1="1359.50" x2="429.06" y2="1781.80" stroke="#b6b6b6" stroke-width="3.0"/>
<line x1="481.85" y1="1359.50" x2="481.85" y2="1781.80" stroke="#b6b6b6" stroke-width="3.0"/>
<line x1="534.64" y1="1359.50" x2="534.64" y2="1781.80" stroke="#b6b6b6" stroke-width="3.0"/>
<line x1="587.42" y1="1359.50" x2="587.42" y2="1781.80" stroke="#b6b6b6" stroke-width="3.0"/>
<line x1="640.21" y1="1359.50" x2="640.21" y2="1781.80" stroke="#b6b6b6" stroke-width="3.0"/>
<line x1="270.70" y1="1429.88" x2="693.00" y2="1429.88" stroke="#8e8e8e" stroke-width="2.2"/>
<line x1="270.70" y1="1500.27" x2="693.00" y2="1500.27" stroke="#8e8e8e" stroke-width="2.2"/>
<line x1="270.70" y1="1570.65" x2="693.00" y2="1570.65" stroke="#8e8e8e" stroke-width="2.2"/>
<line x1="270.70" y1="1641.03" x2="693.00" y2="1641.03" stroke="#8e8e8e" stroke-width="2.2"/>
<line x1="270.70" y1="1711.42" x2="693.00" y2="1711.42" stroke="#8e8e8e" stroke-width="2.2"/>
<line x1="265.50" y1="1359.50" x2="270.70" y2="1359.50" stroke="#8e8e8e" stroke-width="1.6"/>
<line x1="265.50" y1="1429.88" x2="270.70" y2="1429.88" stroke="#8e8e8e" stroke-width="1.6"/>
<line x1="265.50" y1="1500.27" x2="270.70" y2="1500.27" stroke="#8e8e8e" stroke-width="1.6"/>
<line x1="265.50" y1="1570.65" x2="270.70" y2="1570.65" stroke="#8e8e8e" stroke-width="1.6"/>
<line x1="265.50" y1="1641.03" x2="270.70" y2="1641.03" stroke="#8e8e8e" stroke-width="1.6"/>
<line x1="265.50" y1="1711.42" x2="270.70" y2="1711.42" stroke="#8e8e8e" stroke-width="1.6"/>
<line x1="265.50" y1="1781.80" x2="270.70" y2="1781.80" stroke="#8e8e8e" stroke-width="1.6"/>
<line x1="270.70" y1="1781.80" x2="270.70" y2="1787.50" stroke="#8e8e8e" stroke-width="2.0"/>
<line x1="376.27" y1="1781.80" x2="376.27" y2="1787.50" stroke="#8e8e8e" stroke-width="2.0"/>
<line x1="481.85" y1="1781.80" x2="481.85" y2="1787.50" stroke="#8e8e8e" stroke-width="2.0"/>
<line x1="587.42" y1="1781.80" x2="587.42" y2="1787.50" stroke="#8e8e8e" stroke-width="2.0"/>
<line x1="693.00" y1="1781.80" x2="693.00" y2="1787.50" stroke="#8e8e8e" stroke-width="2.0"/>
<rect x="270.7" y="1359.5" width="422.3" height="422.29999999999995" fill="none" stroke="#000" stroke-width="3.5"/>
<path d="M283.0,1381.0 C285.3,1386.1 292.3,1401.6 297.0,1411.8 C301.7,1422.0 306.3,1432.1 311.0,1442.1 C315.7,1452.1 320.3,1461.9 325.0,1471.6 C329.7,1481.3 334.3,1490.8 339.0,1500.2 C343.7,1509.6 348.3,1518.8 353.0,1527.8 C357.7,1536.8 362.3,1545.7 367.0,1554.3 C371.7,1562.9 376.3,1571.3 381.0,1579.5 C385.7,1587.7 390.3,1595.7 395.0,1603.4 C399.7,1611.1 404.3,1618.7 409.0,1625.9 C413.7,1633.2 418.3,1640.1 423.0,1646.9 C427.7,1653.7 432.3,1660.2 437.0,1666.5 C441.7,1672.8 446.3,1678.7 451.0,1684.4 C455.7,1690.1 460.3,1695.7 465.0,1700.9 C469.7,1706.1 474.3,1711.0 479.0,1715.7 C483.7,1720.4 488.3,1724.8 493.0,1729.0 C497.7,1733.2 502.3,1737.0 507.0,1740.7 C511.7,1744.4 516.3,1747.8 521.0,1750.9 C525.7,1754.1 530.3,1756.9 535.0,1759.6 C539.7,1762.2 544.3,1764.6 549.0,1766.8 C553.7,1769.0 558.3,1771.0 563.0,1772.7 C567.7,1774.5 572.7,1776.0 577.0,1777.3 C581.3,1778.5 585.0,1779.5 589.0,1780.2 C593.0,1780.9 595.8,1781.2 601.0,1781.5 C606.2,1781.8 616.8,1781.8 620.0,1781.8" fill="none" stroke="#000" stroke-width="4.5" stroke-linecap="round" stroke-linejoin="round"/>
<text transform="translate(256.60,1364.10) scale(1.340,1)" font-family='"Liberation Sans", "DejaVu Sans", sans-serif' font-size="13.6" font-weight="bold" font-style="normal" text-anchor="end" fill="#222" stroke="#151515" stroke-width="0.55">300</text>
<text transform="translate(256.60,1434.48) scale(1.340,1)" font-family='"Liberation Sans", "DejaVu Sans", sans-serif' font-size="13.6" font-weight="bold" font-style="normal" text-anchor="end" fill="#222" stroke="#151515" stroke-width="0.55">250</text>
<text transform="translate(256.60,1504.87) scale(1.340,1)" font-family='"Liberation Sans", "DejaVu Sans", sans-serif' font-size="13.6" font-weight="bold" font-style="normal" text-anchor="end" fill="#222" stroke="#151515" stroke-width="0.55">200</text>
<text transform="translate(256.60,1575.25) scale(1.340,1)" font-family='"Liberation Sans", "DejaVu Sans", sans-serif' font-size="13.6" font-weight="bold" font-style="normal" text-anchor="end" fill="#222" stroke="#151515" stroke-width="0.55">150</text>
<text transform="translate(256.60,1645.63) scale(1.340,1)" font-family='"Liberation Sans", "DejaVu Sans", sans-serif' font-size="13.6" font-weight="bold" font-style="normal" text-anchor="end" fill="#222" stroke="#151515" stroke-width="0.55">100</text>
<text transform="translate(256.60,1716.02) scale(1.340,1)" font-family='"Liberation Sans", "DejaVu Sans", sans-serif' font-size="13.6" font-weight="bold" font-style="normal" text-anchor="end" fill="#222" stroke="#151515" stroke-width="0.55">50</text>
<text transform="translate(256.60,1786.40) scale(1.340,1)" font-family='"Liberation Sans", "DejaVu Sans", sans-serif' font-size="13.6" font-weight="bold" font-style="normal" text-anchor="end" fill="#222" stroke="#151515" stroke-width="0.55">0</text>
<text transform="translate(271.00,1809.20) scale(1.340,1)" font-family='"Liberation Sans", "DejaVu Sans", sans-serif' font-size="13.6" font-weight="bold" font-style="normal" text-anchor="middle" fill="#222" stroke="#151515" stroke-width="0.55">20</text>
<text transform="translate(376.57,1809.20) scale(1.340,1)" font-family='"Liberation Sans", "DejaVu Sans", sans-serif' font-size="13.6" font-weight="bold" font-style="normal" text-anchor="middle" fill="#222" stroke="#151515" stroke-width="0.55">60</text>
<text transform="translate(482.15,1809.20) scale(1.340,1)" font-family='"Liberation Sans", "DejaVu Sans", sans-serif' font-size="13.6" font-weight="bold" font-style="normal" text-anchor="middle" fill="#222" stroke="#151515" stroke-width="0.55">100</text>
<text transform="translate(587.72,1809.20) scale(1.340,1)" font-family='"Liberation Sans", "DejaVu Sans", sans-serif' font-size="13.6" font-weight="bold" font-style="normal" text-anchor="middle" fill="#222" stroke="#151515" stroke-width="0.55">140</text>
<text transform="translate(693.30,1809.20) scale(1.340,1)" font-family='"Liberation Sans", "DejaVu Sans", sans-serif' font-size="13.6" font-weight="bold" font-style="normal" text-anchor="middle" fill="#222" stroke="#151515" stroke-width="0.55">180</text>
<text transform="translate(481.80,1837.00) scale(1.340,1)" font-family='"Liberation Sans", "DejaVu Sans", sans-serif' font-size="15.8" font-weight="bold" font-style="normal" text-anchor="middle" fill="#222" stroke="#151515" stroke-width="0.55"><tspan font-style="italic">T</tspan><tspan font-size="0.66em" dy="0.24em" font-style="normal">j</tspan><tspan dy="-0.158em" font-style="normal"> [°C]</tspan></text>
<text transform="translate(207.80,1570.70) scale(1.340,1) rotate(-90)" font-family='"Liberation Sans", "DejaVu Sans", sans-serif' font-size="13.5" font-weight="bold" font-style="normal" text-anchor="middle" fill="#222" textLength="62.5" lengthAdjust="spacingAndGlyphs" stroke="#151515" stroke-width="0.7"><tspan font-style="italic">E</tspan><tspan font-size="0.66em" dy="0.24em" font-style="normal">AS</tspan><tspan dy="-0.158em" font-style="normal"> [mJ]</tspan></text>
</g>
<text transform="translate(358.30,1875.40)" font-family='"Liberation Sans", "DejaVu Sans", sans-serif' font-size="15.5" font-weight="normal" font-style="normal" text-anchor="start" fill="#222" textLength="203.4" lengthAdjust="spacingAndGlyphs">Figure 17: Avalanche energy</text>
</g>
<text y="1898.8" font-family='"Liberation Serif", "DejaVu Serif", serif' font-size="17.6" fill="#2a2a2a"><tspan x="37.5" textLength="74.2" lengthAdjust="spacingAndGlyphs">Rongtech</tspan> <tspan x="118.6" textLength="64.6" lengthAdjust="spacingAndGlyphs">Industry</tspan><tspan x="188.3" textLength="5.8" lengthAdjust="spacingAndGlyphs">(</tspan><tspan x="195.4" textLength="69.9" lengthAdjust="spacingAndGlyphs">Shanghai</tspan><tspan x="266.2" textLength="5.8" lengthAdjust="spacingAndGlyphs">)</tspan> <tspan x="280.7" textLength="33.7" lengthAdjust="spacingAndGlyphs">Inc,.</tspan></text>
<text transform="translate(37.50,1919.00)" font-family='"Liberation Sans", "DejaVu Sans", sans-serif' font-size="14.8" font-weight="normal" font-style="normal" text-anchor="start" fill="#222" textLength="88.5" lengthAdjust="spacingAndGlyphs">RTX15N80E</text>
<text transform="translate(37.50,1939.30)" font-family='"Liberation Serif", "DejaVu Serif", serif' font-size="18.4" font-weight="normal" font-style="normal" text-anchor="start" fill="#2a2a2a" textLength="204.4" lengthAdjust="spacingAndGlyphs">www.rongtechpower.com</text>
</svg>
</body>
</html>
